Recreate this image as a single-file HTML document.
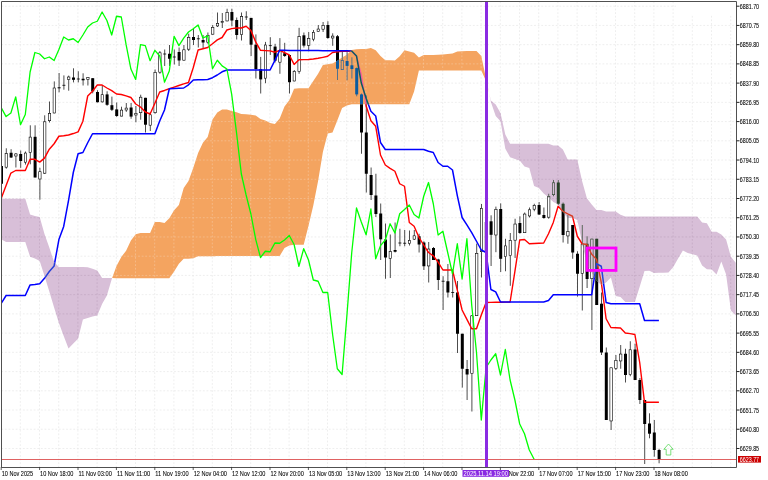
<!DOCTYPE html><html><head><meta charset="utf-8"><style>html,body{margin:0;padding:0;background:#fff;overflow:hidden}svg{display:block}text{font-family:"Liberation Sans",sans-serif}.tx{opacity:0.999;will-change:transform}</style></head><body>
<svg width="768" height="480" viewBox="0 0 768 480">
<rect x="0" y="0" width="768" height="480" fill="#fff"/>
<defs><clipPath id="cp"><rect x="2" y="2" width="734" height="465"/></clipPath></defs>
<g clip-path="url(#cp)">
<rect x="0" y="0" width="768" height="480" fill="#fff"/>
<rect x="0" y="0" width="768" height="480" fill="#fff"/><path d="M20.30 2V467 M39.50 2V467 M58.70 2V467 M77.90 2V467 M97.10 2V467 M116.30 2V467 M135.50 2V467 M154.70 2V467 M173.90 2V467 M193.10 2V467 M212.30 2V467 M231.50 2V467 M250.70 2V467 M269.90 2V467 M289.10 2V467 M308.30 2V467 M327.50 2V467 M346.70 2V467 M365.90 2V467 M385.10 2V467 M404.30 2V467 M423.50 2V467 M442.70 2V467 M461.90 2V467 M481.10 2V467 M500.30 2V467 M519.50 2V467 M538.70 2V467 M557.90 2V467 M577.10 2V467 M596.30 2V467 M615.50 2V467 M634.70 2V467 M653.90 2V467 M673.10 2V467 M692.30 2V467 M711.50 2V467 M730.70 2V467" stroke="#e2e2e2" stroke-width="0.6" stroke-dasharray="1.8 1.8" stroke-dashoffset="0.6" fill="none"/><path d="M2 6.20H736 M2 25.43H736 M2 44.66H736 M2 63.89H736 M2 83.12H736 M2 102.35H736 M2 121.58H736 M2 140.81H736 M2 160.04H736 M2 179.27H736 M2 198.50H736 M2 217.73H736 M2 236.96H736 M2 256.19H736 M2 275.42H736 M2 294.65H736 M2 313.88H736 M2 333.11H736 M2 352.34H736 M2 371.57H736 M2 390.80H736 M2 410.03H736 M2 429.26H736 M2 448.49H736" stroke="#e2e2e2" stroke-width="0.6" stroke-dasharray="1.8 1.8" stroke-dashoffset="0.7" fill="none"/><rect x="676.2" y="2" width="60" height="12.6" fill="#fff"/><line x1="1.50" y1="162" x2="1.50" y2="186" stroke="#000" stroke-width="0.7"/><rect x="0.00" y="166" width="3.0" height="17.75" fill="#000"/><line x1="6.30" y1="148.3" x2="6.30" y2="168.7" stroke="#000" stroke-width="0.7"/><rect x="5.10" y="153.60" width="2.40" height="13.60" fill="#fff" stroke="#000" stroke-width="0.6"/><line x1="11.10" y1="149.2" x2="11.10" y2="158" stroke="#000" stroke-width="0.7"/><rect x="9.60" y="152.75" width="3.0" height="4.75" fill="#000"/><line x1="15.90" y1="153" x2="15.90" y2="167.5" stroke="#000" stroke-width="0.7"/><rect x="14.70" y="153.90" width="2.40" height="2.10" fill="#fff" stroke="#000" stroke-width="0.6"/><line x1="20.70" y1="150.5" x2="20.70" y2="167.8" stroke="#000" stroke-width="0.7"/><rect x="19.20" y="154" width="3.0" height="7.00" fill="#000"/><line x1="25.50" y1="151.5" x2="25.50" y2="164.6" stroke="#000" stroke-width="0.7"/><rect x="24.30" y="153.05" width="2.40" height="9.15" fill="#fff" stroke="#000" stroke-width="0.6"/><line x1="30.30" y1="125.3" x2="30.30" y2="164.3" stroke="#000" stroke-width="0.7"/><rect x="29.10" y="137.10" width="2.40" height="15.35" fill="#fff" stroke="#000" stroke-width="0.6"/><line x1="35.10" y1="125.3" x2="35.10" y2="177.5" stroke="#000" stroke-width="0.7"/><rect x="33.60" y="136.8" width="3.0" height="40.70" fill="#000"/><line x1="39.90" y1="167.8" x2="39.90" y2="199.7" stroke="#000" stroke-width="0.7"/><rect x="38.70" y="171.70" width="2.40" height="7.30" fill="#fff" stroke="#000" stroke-width="0.6"/><line x1="44.70" y1="115.3" x2="44.70" y2="174" stroke="#000" stroke-width="0.7"/><rect x="43.50" y="121.80" width="2.40" height="51.40" fill="#fff" stroke="#000" stroke-width="0.6"/><line x1="49.50" y1="101.5" x2="49.50" y2="122.5" stroke="#000" stroke-width="0.7"/><rect x="48.30" y="113.30" width="2.40" height="7.40" fill="#fff" stroke="#000" stroke-width="0.6"/><line x1="54.30" y1="81.4" x2="54.30" y2="113.3" stroke="#000" stroke-width="0.7"/><rect x="53.10" y="88.00" width="2.40" height="25.00" fill="#fff" stroke="#000" stroke-width="0.6"/><line x1="59.10" y1="73" x2="59.10" y2="92.3" stroke="#000" stroke-width="0.7"/><rect x="57.60" y="87.3" width="3.0" height="1.00" fill="#000"/><line x1="63.90" y1="75.4" x2="63.90" y2="89.7" stroke="#000" stroke-width="0.7"/><line x1="62.40" y1="85.3" x2="65.40" y2="85.3" stroke="#000" stroke-width="0.8"/><line x1="68.70" y1="75.6" x2="68.70" y2="90.7" stroke="#000" stroke-width="0.7"/><rect x="67.50" y="77.00" width="2.40" height="2.50" fill="#fff" stroke="#000" stroke-width="0.6"/><line x1="73.50" y1="68.3" x2="73.50" y2="82.4" stroke="#000" stroke-width="0.7"/><rect x="72.00" y="77.5" width="3.0" height="2.30" fill="#000"/><line x1="78.30" y1="71.25" x2="78.30" y2="82.4" stroke="#000" stroke-width="0.7"/><line x1="76.80" y1="79" x2="79.80" y2="79" stroke="#000" stroke-width="0.8"/><line x1="83.10" y1="73.3" x2="83.10" y2="85.5" stroke="#000" stroke-width="0.7"/><rect x="81.60" y="78.75" width="3.0" height="1.55" fill="#000"/><line x1="87.90" y1="77.2" x2="87.90" y2="85.5" stroke="#000" stroke-width="0.7"/><rect x="86.70" y="77.50" width="2.40" height="2.00" fill="#fff" stroke="#000" stroke-width="0.6"/><line x1="92.70" y1="78" x2="92.70" y2="93.3" stroke="#000" stroke-width="0.7"/><rect x="91.20" y="78.2" width="3.0" height="13.05" fill="#000"/><line x1="97.50" y1="90.2" x2="97.50" y2="102.5" stroke="#000" stroke-width="0.7"/><rect x="96.00" y="92" width="3.0" height="10.20" fill="#000"/><line x1="102.30" y1="85" x2="102.30" y2="102.5" stroke="#000" stroke-width="0.7"/><rect x="101.10" y="94.70" width="2.40" height="7.20" fill="#fff" stroke="#000" stroke-width="0.6"/><line x1="107.10" y1="91.25" x2="107.10" y2="105.8" stroke="#000" stroke-width="0.7"/><rect x="105.60" y="94.4" width="3.0" height="10.40" fill="#000"/><line x1="111.90" y1="96.6" x2="111.90" y2="111" stroke="#000" stroke-width="0.7"/><rect x="110.40" y="105.2" width="3.0" height="4.60" fill="#000"/><line x1="116.70" y1="102.5" x2="116.70" y2="116.9" stroke="#000" stroke-width="0.7"/><rect x="115.20" y="109.4" width="3.0" height="6.60" fill="#000"/><line x1="121.50" y1="106.7" x2="121.50" y2="116.4" stroke="#000" stroke-width="0.7"/><rect x="120.30" y="110.10" width="2.40" height="6.00" fill="#fff" stroke="#000" stroke-width="0.6"/><line x1="126.30" y1="103" x2="126.30" y2="111.9" stroke="#000" stroke-width="0.7"/><rect x="125.10" y="108.10" width="2.40" height="1.90" fill="#fff" stroke="#000" stroke-width="0.6"/><line x1="131.10" y1="103" x2="131.10" y2="118.75" stroke="#000" stroke-width="0.7"/><rect x="129.60" y="107.5" width="3.0" height="9.10" fill="#000"/><line x1="135.90" y1="106" x2="135.90" y2="122.3" stroke="#000" stroke-width="0.7"/><rect x="134.70" y="113.30" width="2.40" height="1.70" fill="#fff" stroke="#000" stroke-width="0.6"/><line x1="140.70" y1="94.7" x2="140.70" y2="119.7" stroke="#000" stroke-width="0.7"/><rect x="139.50" y="97.20" width="2.40" height="15.50" fill="#fff" stroke="#000" stroke-width="0.6"/><line x1="145.50" y1="97.8" x2="145.50" y2="132.5" stroke="#000" stroke-width="0.7"/><rect x="144.00" y="97.8" width="3.0" height="26.90" fill="#000"/><line x1="150.30" y1="112" x2="150.30" y2="131" stroke="#000" stroke-width="0.7"/><rect x="149.10" y="114.80" width="2.40" height="10.40" fill="#fff" stroke="#000" stroke-width="0.6"/><line x1="155.10" y1="69.5" x2="155.10" y2="113.75" stroke="#000" stroke-width="0.7"/><rect x="153.90" y="72.30" width="2.40" height="40.40" fill="#fff" stroke="#000" stroke-width="0.6"/><line x1="159.90" y1="51" x2="159.90" y2="73.75" stroke="#000" stroke-width="0.7"/><rect x="158.70" y="52.80" width="2.40" height="19.40" fill="#fff" stroke="#000" stroke-width="0.6"/><line x1="164.70" y1="49.5" x2="164.70" y2="66" stroke="#000" stroke-width="0.7"/><line x1="163.20" y1="54" x2="166.20" y2="54" stroke="#000" stroke-width="0.8"/><line x1="169.50" y1="45" x2="169.50" y2="66" stroke="#000" stroke-width="0.7"/><rect x="168.00" y="53.75" width="3.0" height="5.00" fill="#000"/><line x1="174.30" y1="49.5" x2="174.30" y2="64.5" stroke="#000" stroke-width="0.7"/><line x1="172.80" y1="57" x2="175.80" y2="57" stroke="#000" stroke-width="0.8"/><line x1="179.10" y1="47.5" x2="179.10" y2="66" stroke="#000" stroke-width="0.7"/><rect x="177.60" y="52" width="3.0" height="8.50" fill="#000"/><line x1="183.90" y1="45" x2="183.90" y2="60.5" stroke="#000" stroke-width="0.7"/><rect x="182.70" y="49.80" width="2.40" height="10.40" fill="#fff" stroke="#000" stroke-width="0.6"/><line x1="188.70" y1="33.75" x2="188.70" y2="51" stroke="#000" stroke-width="0.7"/><rect x="187.50" y="37.30" width="2.40" height="11.90" fill="#fff" stroke="#000" stroke-width="0.6"/><line x1="193.50" y1="28.75" x2="193.50" y2="45" stroke="#000" stroke-width="0.7"/><rect x="192.00" y="37" width="3.0" height="3.00" fill="#000"/><line x1="198.30" y1="35" x2="198.30" y2="47.5" stroke="#000" stroke-width="0.7"/><line x1="196.80" y1="38.75" x2="199.80" y2="38.75" stroke="#000" stroke-width="0.8"/><line x1="203.10" y1="35" x2="203.10" y2="48" stroke="#000" stroke-width="0.7"/><rect x="201.60" y="40" width="3.0" height="2.50" fill="#000"/><line x1="207.90" y1="32.5" x2="207.90" y2="43.75" stroke="#000" stroke-width="0.7"/><rect x="206.70" y="35.30" width="2.40" height="6.90" fill="#fff" stroke="#000" stroke-width="0.6"/><line x1="212.70" y1="25" x2="212.70" y2="34.5" stroke="#000" stroke-width="0.7"/><rect x="211.50" y="27.30" width="2.40" height="6.90" fill="#fff" stroke="#000" stroke-width="0.6"/><line x1="217.50" y1="12.5" x2="217.50" y2="27" stroke="#000" stroke-width="0.7"/><rect x="216.30" y="23.30" width="2.40" height="2.65" fill="#fff" stroke="#000" stroke-width="0.6"/><line x1="222.30" y1="13" x2="222.30" y2="28" stroke="#000" stroke-width="0.7"/><rect x="221.10" y="21.55" width="2.40" height="1.15" fill="#fff" stroke="#000" stroke-width="0.6"/><line x1="227.10" y1="8.75" x2="227.10" y2="21.25" stroke="#000" stroke-width="0.7"/><rect x="225.90" y="12.30" width="2.40" height="8.65" fill="#fff" stroke="#000" stroke-width="0.6"/><line x1="231.90" y1="8.75" x2="231.90" y2="26.25" stroke="#000" stroke-width="0.7"/><rect x="230.40" y="12" width="3.0" height="8.50" fill="#000"/><line x1="236.70" y1="17.5" x2="236.70" y2="39.5" stroke="#000" stroke-width="0.7"/><rect x="235.20" y="20" width="3.0" height="15.00" fill="#000"/><line x1="241.50" y1="12.5" x2="241.50" y2="40.5" stroke="#000" stroke-width="0.7"/><rect x="240.30" y="16.55" width="2.40" height="18.15" fill="#fff" stroke="#000" stroke-width="0.6"/><line x1="246.30" y1="11.25" x2="246.30" y2="20" stroke="#000" stroke-width="0.7"/><line x1="244.80" y1="17" x2="247.80" y2="17" stroke="#000" stroke-width="0.8"/><line x1="251.10" y1="17.9" x2="251.10" y2="56" stroke="#000" stroke-width="0.7"/><rect x="249.60" y="17.9" width="3.0" height="26.80" fill="#000"/><line x1="255.90" y1="34.4" x2="255.90" y2="78.5" stroke="#000" stroke-width="0.7"/><rect x="254.40" y="44.7" width="3.0" height="24.40" fill="#000"/><line x1="260.70" y1="56.9" x2="260.70" y2="93.5" stroke="#000" stroke-width="0.7"/><rect x="259.20" y="69.1" width="3.0" height="10.30" fill="#000"/><line x1="265.50" y1="41.9" x2="265.50" y2="83.2" stroke="#000" stroke-width="0.7"/><rect x="264.30" y="45.00" width="2.40" height="33.20" fill="#fff" stroke="#000" stroke-width="0.6"/><line x1="270.30" y1="37.2" x2="270.30" y2="55" stroke="#000" stroke-width="0.7"/><line x1="268.80" y1="45.6" x2="271.80" y2="45.6" stroke="#000" stroke-width="0.8"/><line x1="275.10" y1="43.8" x2="275.10" y2="62.5" stroke="#000" stroke-width="0.7"/><rect x="273.60" y="46.6" width="3.0" height="14.10" fill="#000"/><line x1="279.90" y1="38.1" x2="279.90" y2="73.8" stroke="#000" stroke-width="0.7"/><rect x="278.70" y="50.60" width="2.40" height="11.60" fill="#fff" stroke="#000" stroke-width="0.6"/><line x1="284.70" y1="42.8" x2="284.70" y2="56.9" stroke="#000" stroke-width="0.7"/><rect x="283.20" y="53.2" width="3.0" height="2.80" fill="#000"/><line x1="289.50" y1="55" x2="289.50" y2="93.5" stroke="#000" stroke-width="0.7"/><rect x="288.00" y="55" width="3.0" height="27.20" fill="#000"/><line x1="294.30" y1="70" x2="294.30" y2="81.3" stroke="#000" stroke-width="0.7"/><rect x="293.10" y="71.30" width="2.40" height="9.70" fill="#fff" stroke="#000" stroke-width="0.6"/><line x1="299.10" y1="27.8" x2="299.10" y2="73.8" stroke="#000" stroke-width="0.7"/><rect x="297.90" y="36.60" width="2.40" height="35.00" fill="#fff" stroke="#000" stroke-width="0.6"/><line x1="303.90" y1="32.5" x2="303.90" y2="47.5" stroke="#000" stroke-width="0.7"/><rect x="302.40" y="35.3" width="3.0" height="10.30" fill="#000"/><line x1="308.70" y1="32" x2="308.70" y2="51.3" stroke="#000" stroke-width="0.7"/><rect x="307.50" y="38.40" width="2.40" height="6.90" fill="#fff" stroke="#000" stroke-width="0.6"/><line x1="313.50" y1="30" x2="313.50" y2="41.25" stroke="#000" stroke-width="0.7"/><rect x="312.30" y="32.30" width="2.40" height="6.90" fill="#fff" stroke="#000" stroke-width="0.6"/><line x1="318.30" y1="25" x2="318.30" y2="32" stroke="#000" stroke-width="0.7"/><rect x="317.10" y="29.05" width="2.40" height="2.65" fill="#fff" stroke="#000" stroke-width="0.6"/><line x1="323.10" y1="22" x2="323.10" y2="32" stroke="#000" stroke-width="0.7"/><rect x="321.90" y="25.30" width="2.40" height="3.90" fill="#fff" stroke="#000" stroke-width="0.6"/><line x1="327.90" y1="21.25" x2="327.90" y2="38.75" stroke="#000" stroke-width="0.7"/><rect x="326.40" y="25" width="3.0" height="13.00" fill="#000"/><line x1="332.70" y1="33.3" x2="332.70" y2="45.8" stroke="#000" stroke-width="0.7"/><rect x="331.50" y="36.10" width="2.40" height="1.90" fill="#fff" stroke="#000" stroke-width="0.6"/><line x1="337.50" y1="35" x2="337.50" y2="80" stroke="#000" stroke-width="0.7"/><rect x="336.00" y="36.25" width="3.0" height="32.50" fill="#000"/><line x1="342.30" y1="52" x2="342.30" y2="70" stroke="#000" stroke-width="0.7"/><rect x="341.10" y="60.55" width="2.40" height="9.15" fill="#fff" stroke="#000" stroke-width="0.6"/><line x1="347.10" y1="52.2" x2="347.10" y2="80.3" stroke="#000" stroke-width="0.7"/><rect x="345.60" y="61" width="3.0" height="4.90" fill="#000"/><line x1="351.90" y1="57.3" x2="351.90" y2="78.5" stroke="#000" stroke-width="0.7"/><rect x="350.40" y="65.3" width="3.0" height="3.70" fill="#000"/><line x1="356.70" y1="67.5" x2="356.70" y2="96.3" stroke="#000" stroke-width="0.7"/><rect x="355.20" y="68.1" width="3.0" height="26.30" fill="#000"/><line x1="361.50" y1="93.5" x2="361.50" y2="153.75" stroke="#000" stroke-width="0.7"/><rect x="360.00" y="94.4" width="3.0" height="38.10" fill="#000"/><line x1="366.30" y1="95.3" x2="366.30" y2="192.5" stroke="#000" stroke-width="0.7"/><rect x="364.80" y="132.5" width="3.0" height="41.25" fill="#000"/><line x1="371.10" y1="167.5" x2="371.10" y2="200" stroke="#000" stroke-width="0.7"/><rect x="369.60" y="175" width="3.0" height="20.00" fill="#000"/><line x1="375.90" y1="173.75" x2="375.90" y2="217" stroke="#000" stroke-width="0.7"/><rect x="374.40" y="195.5" width="3.0" height="18.50" fill="#000"/><line x1="380.70" y1="203.5" x2="380.70" y2="260" stroke="#000" stroke-width="0.7"/><rect x="379.20" y="213.5" width="3.0" height="25.80" fill="#000"/><line x1="385.50" y1="223.5" x2="385.50" y2="278.75" stroke="#000" stroke-width="0.7"/><rect x="384.00" y="239.5" width="3.0" height="18.00" fill="#000"/><line x1="390.30" y1="234.5" x2="390.30" y2="278" stroke="#000" stroke-width="0.7"/><rect x="389.10" y="251.55" width="2.40" height="6.90" fill="#fff" stroke="#000" stroke-width="0.6"/><line x1="395.10" y1="222.5" x2="395.10" y2="252.5" stroke="#000" stroke-width="0.7"/><rect x="393.60" y="250" width="3.0" height="1.75" fill="#000"/><line x1="399.90" y1="228.75" x2="399.90" y2="246.25" stroke="#000" stroke-width="0.7"/><line x1="398.40" y1="243" x2="401.40" y2="243" stroke="#000" stroke-width="0.8"/><line x1="404.70" y1="230" x2="404.70" y2="246.25" stroke="#000" stroke-width="0.7"/><line x1="403.20" y1="243.25" x2="406.20" y2="243.25" stroke="#000" stroke-width="0.8"/><line x1="409.50" y1="230.5" x2="409.50" y2="245.5" stroke="#000" stroke-width="0.7"/><rect x="408.30" y="240.30" width="2.40" height="3.15" fill="#fff" stroke="#000" stroke-width="0.6"/><line x1="414.30" y1="230" x2="414.30" y2="240" stroke="#000" stroke-width="0.7"/><rect x="413.10" y="235.80" width="2.40" height="3.40" fill="#fff" stroke="#000" stroke-width="0.6"/><line x1="419.10" y1="233.75" x2="419.10" y2="252.5" stroke="#000" stroke-width="0.7"/><rect x="417.60" y="236.25" width="3.0" height="8.25" fill="#000"/><line x1="423.90" y1="241.25" x2="423.90" y2="270" stroke="#000" stroke-width="0.7"/><rect x="422.40" y="242.5" width="3.0" height="23.75" fill="#000"/><line x1="428.70" y1="242" x2="428.70" y2="282.5" stroke="#000" stroke-width="0.7"/><rect x="427.50" y="249.05" width="2.40" height="16.90" fill="#fff" stroke="#000" stroke-width="0.6"/><line x1="433.50" y1="247" x2="433.50" y2="260" stroke="#000" stroke-width="0.7"/><rect x="432.00" y="248" width="3.0" height="12.00" fill="#000"/><line x1="438.30" y1="258.75" x2="438.30" y2="290" stroke="#000" stroke-width="0.7"/><rect x="436.80" y="259.5" width="3.0" height="20.50" fill="#000"/><line x1="443.10" y1="276.25" x2="443.10" y2="310" stroke="#000" stroke-width="0.7"/><line x1="441.60" y1="281.25" x2="444.60" y2="281.25" stroke="#000" stroke-width="0.8"/><line x1="447.90" y1="264" x2="447.90" y2="297.5" stroke="#000" stroke-width="0.7"/><rect x="446.40" y="281.25" width="3.0" height="11.25" fill="#000"/><line x1="452.70" y1="271.7" x2="452.70" y2="297.5" stroke="#000" stroke-width="0.7"/><line x1="451.20" y1="292.5" x2="454.20" y2="292.5" stroke="#000" stroke-width="0.8"/><line x1="457.50" y1="281" x2="457.50" y2="353" stroke="#000" stroke-width="0.7"/><rect x="456.00" y="292.5" width="3.0" height="41.25" fill="#000"/><line x1="462.30" y1="333.75" x2="462.30" y2="387.6" stroke="#000" stroke-width="0.7"/><rect x="460.80" y="333.75" width="3.0" height="35.00" fill="#000"/><line x1="467.10" y1="360" x2="467.10" y2="400" stroke="#000" stroke-width="0.7"/><rect x="465.60" y="369" width="3.0" height="5.50" fill="#000"/><line x1="471.90" y1="315" x2="471.90" y2="411.5" stroke="#000" stroke-width="0.7"/><rect x="470.70" y="315.80" width="2.40" height="57.90" fill="#fff" stroke="#000" stroke-width="0.6"/><line x1="476.70" y1="243.6" x2="476.70" y2="316" stroke="#000" stroke-width="0.7"/><rect x="475.50" y="253.30" width="2.40" height="62.40" fill="#fff" stroke="#000" stroke-width="0.6"/><line x1="481.50" y1="204" x2="481.50" y2="277.5" stroke="#000" stroke-width="0.7"/><rect x="480.30" y="208.30" width="2.40" height="43.40" fill="#fff" stroke="#000" stroke-width="0.6"/><line x1="486.30" y1="215" x2="486.30" y2="260" stroke="#000" stroke-width="0.7"/><rect x="485.10" y="222.30" width="2.40" height="29.40" fill="#fff" stroke="#000" stroke-width="0.6"/><line x1="491.10" y1="215.3" x2="491.10" y2="266" stroke="#000" stroke-width="0.7"/><rect x="489.60" y="221.3" width="3.0" height="13.50" fill="#000"/><line x1="495.90" y1="206.6" x2="495.90" y2="252.2" stroke="#000" stroke-width="0.7"/><rect x="494.70" y="209.30" width="2.40" height="25.70" fill="#fff" stroke="#000" stroke-width="0.6"/><line x1="500.70" y1="203.4" x2="500.70" y2="272" stroke="#000" stroke-width="0.7"/><rect x="499.20" y="209" width="3.0" height="49.80" fill="#000"/><line x1="505.50" y1="238.75" x2="505.50" y2="271.25" stroke="#000" stroke-width="0.7"/><rect x="504.30" y="245.90" width="2.40" height="10.80" fill="#fff" stroke="#000" stroke-width="0.6"/><line x1="510.30" y1="233" x2="510.30" y2="285.8" stroke="#000" stroke-width="0.7"/><rect x="509.10" y="240.30" width="2.40" height="15.40" fill="#fff" stroke="#000" stroke-width="0.6"/><line x1="515.10" y1="218.75" x2="515.10" y2="258" stroke="#000" stroke-width="0.7"/><rect x="513.90" y="224.05" width="2.40" height="16.15" fill="#fff" stroke="#000" stroke-width="0.6"/><line x1="519.90" y1="216.25" x2="519.90" y2="233.75" stroke="#000" stroke-width="0.7"/><rect x="518.40" y="223" width="3.0" height="10.00" fill="#000"/><line x1="524.70" y1="212.5" x2="524.70" y2="233" stroke="#000" stroke-width="0.7"/><rect x="523.50" y="214.05" width="2.40" height="18.65" fill="#fff" stroke="#000" stroke-width="0.6"/><line x1="529.50" y1="207.5" x2="529.50" y2="217.5" stroke="#000" stroke-width="0.7"/><rect x="528.30" y="209.80" width="2.40" height="6.15" fill="#fff" stroke="#000" stroke-width="0.6"/><line x1="534.30" y1="203.75" x2="534.30" y2="211.25" stroke="#000" stroke-width="0.7"/><rect x="533.10" y="205.30" width="2.40" height="3.90" fill="#fff" stroke="#000" stroke-width="0.6"/><line x1="539.10" y1="202" x2="539.10" y2="215" stroke="#000" stroke-width="0.7"/><rect x="537.60" y="205" width="3.0" height="9.50" fill="#000"/><line x1="543.90" y1="207.5" x2="543.90" y2="218.75" stroke="#000" stroke-width="0.7"/><rect x="542.40" y="215" width="3.0" height="3.00" fill="#000"/><line x1="548.70" y1="193.75" x2="548.70" y2="218.75" stroke="#000" stroke-width="0.7"/><rect x="547.50" y="196.55" width="2.40" height="20.65" fill="#fff" stroke="#000" stroke-width="0.6"/><line x1="553.50" y1="180" x2="553.50" y2="196.25" stroke="#000" stroke-width="0.7"/><rect x="552.30" y="182.80" width="2.40" height="11.90" fill="#fff" stroke="#000" stroke-width="0.6"/><line x1="558.30" y1="180" x2="558.30" y2="205" stroke="#000" stroke-width="0.7"/><rect x="556.80" y="182.5" width="3.0" height="21.25" fill="#000"/><line x1="563.10" y1="202.5" x2="563.10" y2="242.5" stroke="#000" stroke-width="0.7"/><rect x="561.60" y="203.75" width="3.0" height="31.25" fill="#000"/><line x1="567.90" y1="215" x2="567.90" y2="243.75" stroke="#000" stroke-width="0.7"/><rect x="566.70" y="231.55" width="2.40" height="4.40" fill="#fff" stroke="#000" stroke-width="0.6"/><line x1="572.70" y1="225" x2="572.70" y2="258.75" stroke="#000" stroke-width="0.7"/><rect x="571.20" y="225" width="3.0" height="27.50" fill="#000"/><line x1="577.50" y1="251.25" x2="577.50" y2="296.6" stroke="#000" stroke-width="0.7"/><rect x="576.00" y="253.75" width="3.0" height="20.00" fill="#000"/><line x1="582.30" y1="225" x2="582.30" y2="310.5" stroke="#000" stroke-width="0.7"/><rect x="581.10" y="244.05" width="2.40" height="29.40" fill="#fff" stroke="#000" stroke-width="0.6"/><line x1="587.10" y1="236.25" x2="587.10" y2="288" stroke="#000" stroke-width="0.7"/><rect x="585.60" y="243.75" width="3.0" height="35.25" fill="#000"/><line x1="591.90" y1="238.75" x2="591.90" y2="330" stroke="#000" stroke-width="0.7"/><rect x="590.70" y="239.05" width="2.40" height="39.65" fill="#fff" stroke="#000" stroke-width="0.6"/><line x1="596.70" y1="238.75" x2="596.70" y2="305" stroke="#000" stroke-width="0.7"/><rect x="595.20" y="238.75" width="3.0" height="66.25" fill="#000"/><line x1="601.50" y1="292.5" x2="601.50" y2="355" stroke="#000" stroke-width="0.7"/><rect x="600.00" y="303.7" width="3.0" height="48.80" fill="#000"/><line x1="606.30" y1="347.5" x2="606.30" y2="420" stroke="#000" stroke-width="0.7"/><rect x="604.80" y="352.5" width="3.0" height="67.50" fill="#000"/><line x1="611.10" y1="367.5" x2="611.10" y2="430" stroke="#000" stroke-width="0.7"/><rect x="609.90" y="367.80" width="2.40" height="53.15" fill="#fff" stroke="#000" stroke-width="0.6"/><line x1="615.90" y1="355" x2="615.90" y2="370" stroke="#000" stroke-width="0.7"/><rect x="614.70" y="360.30" width="2.40" height="8.15" fill="#fff" stroke="#000" stroke-width="0.6"/><line x1="620.70" y1="345" x2="620.70" y2="368.75" stroke="#000" stroke-width="0.7"/><rect x="619.50" y="354.05" width="2.40" height="6.90" fill="#fff" stroke="#000" stroke-width="0.6"/><line x1="625.50" y1="348.75" x2="625.50" y2="382.5" stroke="#000" stroke-width="0.7"/><rect x="624.00" y="353.75" width="3.0" height="21.25" fill="#000"/><line x1="630.30" y1="341.25" x2="630.30" y2="376.25" stroke="#000" stroke-width="0.7"/><rect x="629.10" y="349.80" width="2.40" height="24.90" fill="#fff" stroke="#000" stroke-width="0.6"/><line x1="635.10" y1="343.75" x2="635.10" y2="380" stroke="#000" stroke-width="0.7"/><rect x="633.60" y="349.5" width="3.0" height="30.50" fill="#000"/><line x1="639.90" y1="378" x2="639.90" y2="404" stroke="#000" stroke-width="0.7"/><rect x="638.40" y="380" width="3.0" height="20.00" fill="#000"/><line x1="644.70" y1="400" x2="644.70" y2="464" stroke="#000" stroke-width="0.7"/><rect x="643.20" y="400" width="3.0" height="24.00" fill="#000"/><line x1="649.50" y1="413.3" x2="649.50" y2="438.3" stroke="#000" stroke-width="0.7"/><rect x="648.00" y="423.5" width="3.0" height="10.20" fill="#000"/><line x1="654.30" y1="420" x2="654.30" y2="456.7" stroke="#000" stroke-width="0.7"/><rect x="652.80" y="432.5" width="3.0" height="17.50" fill="#000"/><line x1="659.10" y1="448.75" x2="659.10" y2="463.3" stroke="#000" stroke-width="0.7"/><rect x="657.60" y="450" width="3.0" height="9.20" fill="#000"/><polyline points="1.30,198.00 6.10,185.50 10.90,173.10 15.70,170.50 20.50,170.50 25.30,170.50 30.10,159.30 34.90,159.30 39.70,162.10 44.50,158.10 49.30,149.20 54.10,143.75 58.90,136.25 63.70,135.72 68.50,135.00 73.30,133.54 78.10,131.91 82.90,121.25 87.70,96.00 92.50,91.25 97.30,85.00 102.10,85.00 106.90,88.00 111.70,90.60 116.50,94.00 121.30,94.50 126.10,95.94 130.90,97.50 135.70,104.00 140.50,107.00 145.30,112.00 150.10,114.00 154.90,103.22 159.70,92.00 164.50,90.46 169.30,88.75 174.10,87.15 178.90,85.49 183.70,83.82 188.50,82.50 193.30,67.50 198.10,50.00 202.90,48.75 207.70,47.50 212.50,43.75 217.30,39.87 222.10,37.50 226.90,30.00 231.70,28.66 236.50,28.00 241.30,28.00 246.10,26.25 250.90,30.60 255.70,41.90 260.50,50.30 265.30,50.64 270.10,50.90 274.90,52.20 279.70,50.30 284.50,52.70 289.30,55.00 294.10,64.40 298.90,59.70 303.70,59.62 308.50,59.50 313.30,59.00 318.10,58.28 322.90,57.32 327.70,56.25 332.50,52.50 337.30,51.81 342.10,51.25 346.90,51.25 351.70,51.25 356.50,56.25 361.30,75.00 366.10,105.70 370.90,120.70 375.70,126.30 380.50,155.00 385.30,165.00 390.10,168.31 394.90,171.25 399.70,183.75 404.50,186.25 409.30,222.50 414.10,226.25 418.90,237.29 423.70,245.00 428.50,252.50 433.30,255.80 438.10,262.08 442.90,270.00 447.70,270.00 452.50,270.00 457.30,290.07 462.10,310.00 466.90,319.43 471.70,328.75 476.50,328.75 481.30,315.00 486.10,302.50 490.90,302.40 495.70,302.30 500.50,302.20 505.30,302.10 510.10,302.00 514.90,271.31 519.70,240.00 524.50,239.50 529.30,243.75 534.10,243.53 538.90,243.26 543.70,243.00 548.50,233.75 553.30,222.41 558.10,206.25 562.90,211.25 567.70,213.88 572.50,216.25 577.30,236.25 582.10,243.75 586.90,244.50 591.70,254.20 596.50,259.38 601.30,282.50 606.10,318.75 610.90,327.50 615.70,327.75 620.50,328.00 625.30,333.00 630.10,333.66 634.90,334.50 639.70,362.50 644.50,402.30 649.30,402.30 654.10,402.30 658.90,402.30" fill="none" stroke="#f00" stroke-width="1.4" stroke-linejoin="round"/><polyline points="1.30,303.30 6.10,295.50 10.90,295.50 15.70,295.50 20.50,295.50 25.30,295.50 30.10,284.90 34.90,284.50 39.70,283.80 44.50,278.35 49.30,271.45 54.10,266.00 58.90,239.60 63.70,226.39 68.50,200.73 73.30,172.50 78.10,153.75 82.90,152.50 87.70,142.75 92.50,133.75 97.30,133.75 102.10,133.75 106.90,133.75 111.70,133.75 116.50,133.75 121.30,133.75 126.10,133.75 130.90,133.75 135.70,133.75 140.50,133.75 145.30,133.75 150.10,133.75 154.90,133.75 159.70,120.99 164.50,110.00 169.30,88.75 174.10,88.55 178.90,88.31 183.70,88.00 188.50,84.80 193.30,80.00 198.10,79.87 202.90,79.72 207.70,79.57 212.50,77.70 217.30,75.00 222.10,71.80 226.90,70.00 231.70,70.00 236.50,70.00 241.30,70.00 246.10,70.00 250.90,70.00 255.70,70.00 260.50,70.00 265.30,70.00 270.10,70.00 274.90,60.36 279.70,50.30 284.50,50.34 289.30,50.38 294.10,50.42 298.90,50.46 303.70,50.50 308.50,50.54 313.30,50.58 318.10,50.62 322.90,50.66 327.70,50.70 332.50,50.74 337.30,50.78 342.10,50.82 346.90,50.86 351.70,50.90 356.50,55.92 361.30,83.10 366.10,98.20 370.90,111.30 375.70,116.00 380.50,142.50 385.30,149.50 390.10,149.50 394.90,149.50 399.70,149.50 404.50,149.50 409.30,149.50 414.10,149.50 418.90,149.50 423.70,149.50 428.50,151.30 433.30,152.50 438.10,162.50 442.90,166.25 447.70,166.25 452.50,170.00 457.30,195.54 462.10,217.50 466.90,224.83 471.70,232.55 476.50,241.25 481.30,250.00 486.10,252.50 490.90,289.50 495.70,291.90 500.50,302.00 505.30,302.00 510.10,302.00 514.90,302.00 519.70,302.00 524.50,302.00 529.30,302.00 534.10,302.00 538.90,302.00 543.70,302.00 548.50,300.50 553.30,294.70 558.10,294.70 562.90,294.70 567.70,294.70 572.50,294.70 577.30,294.70 582.10,294.70 586.90,294.70 591.70,294.70 596.50,263.75 601.30,266.25 606.10,302.50 610.90,303.75 615.70,303.75 620.50,303.75 625.30,303.75 630.10,303.75 634.90,303.75 639.70,303.75 644.50,320.50 649.30,320.50 654.10,320.50 658.90,320.50" fill="none" stroke="#00f" stroke-width="1.5" stroke-linejoin="round"/>
<clipPath id="oc"><path d="M112.13 278.02 L116.50 266.00 L116.50 278.20ZM116.50 266.00 L121.30 257.00 L121.30 278.20 L116.50 278.20ZM121.30 257.00 L126.10 250.65 L126.10 278.20 L121.30 278.20ZM126.10 250.65 L130.90 240.50 L130.90 278.20 L126.10 278.20ZM130.90 240.50 L135.70 234.30 L135.70 278.20 L130.90 278.20ZM135.70 234.30 L140.50 233.00 L140.50 278.20 L135.70 278.20ZM140.50 233.00 L145.30 233.00 L145.30 278.20 L140.50 278.20ZM145.30 233.00 L150.10 233.00 L150.10 278.20 L145.30 278.20ZM150.10 233.00 L154.90 222.10 L154.90 278.20 L150.10 278.20ZM154.90 222.10 L159.70 221.90 L159.70 278.20 L154.90 278.20ZM159.70 221.90 L164.50 222.95 L164.50 278.20 L159.70 278.20ZM164.50 222.95 L169.30 218.22 L169.30 278.20 L164.50 278.20ZM169.30 218.22 L174.10 210.33 L174.10 271.50 L169.30 278.20ZM174.10 210.33 L178.90 204.88 L178.90 263.70 L174.10 271.50ZM178.90 204.88 L183.70 187.93 L183.70 258.75 L178.90 263.70ZM183.70 187.93 L188.50 181.05 L188.50 258.75 L183.70 258.75ZM188.50 181.05 L193.30 167.86 L193.30 258.20 L188.50 258.75ZM193.30 167.86 L198.10 153.02 L198.10 256.25 L193.30 258.20ZM198.10 153.02 L202.90 142.83 L202.90 256.25 L198.10 256.25ZM202.90 142.83 L207.70 136.88 L207.70 256.25 L202.90 256.25ZM207.70 136.88 L212.50 119.38 L212.50 256.25 L207.70 256.25ZM212.50 119.38 L217.30 112.50 L217.30 256.00 L212.50 256.25ZM217.30 112.50 L222.10 109.38 L222.10 256.00 L217.30 256.00ZM222.10 109.38 L226.90 109.38 L226.90 256.00 L222.10 256.00ZM226.90 109.38 L231.70 110.88 L231.70 256.00 L226.90 256.00ZM231.70 110.88 L236.50 112.17 L236.50 256.00 L231.70 256.00ZM236.50 112.17 L241.30 113.88 L241.30 256.00 L236.50 256.00ZM241.30 113.88 L246.10 114.13 L246.10 256.00 L241.30 256.00ZM246.10 114.13 L250.90 114.84 L250.90 256.00 L246.10 256.00ZM250.90 114.84 L255.70 115.62 L255.70 256.00 L250.90 256.00ZM255.70 115.62 L260.50 118.88 L260.50 256.00 L255.70 256.00ZM260.50 118.88 L265.30 120.38 L265.30 256.00 L260.50 256.00ZM265.30 120.38 L270.10 122.88 L270.10 256.00 L265.30 256.00ZM270.10 122.88 L274.90 123.88 L274.90 256.00 L270.10 256.00ZM274.90 123.88 L279.70 118.48 L279.70 256.00 L274.90 256.00ZM279.70 118.48 L284.50 106.50 L284.50 248.00 L279.70 256.00ZM284.50 106.50 L289.30 100.23 L289.30 245.50 L284.50 248.00ZM289.30 100.23 L294.10 88.75 L294.10 244.70 L289.30 245.50ZM294.10 88.75 L298.90 88.30 L298.90 244.70 L294.10 244.70ZM298.90 88.30 L303.70 88.30 L303.70 244.70 L298.90 244.70ZM303.70 88.30 L308.50 88.30 L308.50 225.80 L303.70 244.70ZM308.50 88.30 L313.30 81.00 L313.30 205.50 L308.50 225.80ZM313.30 81.00 L318.10 73.75 L318.10 181.00 L313.30 205.50ZM318.10 73.75 L322.90 64.93 L322.90 152.00 L318.10 181.00ZM322.90 64.93 L327.70 64.23 L327.70 133.50 L322.90 152.00ZM327.70 64.23 L332.50 63.54 L332.50 132.40 L327.70 133.50ZM332.50 63.54 L337.30 60.73 L337.30 120.50 L332.50 132.40ZM337.30 60.73 L342.10 57.43 L342.10 108.00 L337.30 120.50ZM342.10 57.43 L346.90 54.65 L346.90 105.50 L342.10 108.00ZM346.90 54.65 L351.70 50.00 L351.70 104.20 L346.90 105.50ZM351.70 50.00 L356.50 49.33 L356.50 104.20 L351.70 104.20ZM356.50 49.33 L361.30 49.00 L361.30 104.20 L356.50 104.20ZM361.30 49.00 L366.10 49.00 L366.10 104.20 L361.30 104.20ZM366.10 49.00 L370.90 48.12 L370.90 104.22 L366.10 104.20ZM370.90 48.12 L375.70 50.30 L375.70 104.22 L370.90 104.22ZM375.70 50.30 L380.50 55.95 L380.50 104.22 L375.70 104.22ZM380.50 55.95 L385.30 60.15 L385.30 104.22 L380.50 104.22ZM385.30 60.15 L390.10 60.32 L390.10 104.22 L385.30 104.22ZM390.10 60.32 L394.90 60.45 L394.90 104.22 L390.10 104.22ZM394.90 60.45 L399.70 56.28 L399.70 104.22 L394.90 104.22ZM399.70 56.28 L404.50 50.30 L404.50 104.22 L399.70 104.22ZM404.50 50.30 L409.30 51.52 L409.30 104.22 L404.50 104.22ZM409.30 51.52 L414.10 52.69 L414.10 91.38 L409.30 104.22ZM414.10 52.69 L418.90 57.41 L418.90 70.62 L414.10 91.38ZM418.90 57.41 L423.70 55.08 L423.70 70.62 L418.90 70.62ZM423.70 55.08 L428.50 55.06 L428.50 70.62 L423.70 70.62ZM428.50 55.06 L433.30 55.02 L433.30 70.62 L428.50 70.62ZM433.30 55.02 L438.10 54.79 L438.10 70.62 L433.30 70.62ZM438.10 54.79 L442.90 54.45 L442.90 70.62 L438.10 70.62ZM442.90 54.45 L447.70 53.99 L447.70 70.62 L442.90 70.62ZM447.70 53.99 L452.50 53.48 L452.50 70.62 L447.70 70.62ZM452.50 53.48 L457.30 51.62 L457.30 70.62 L452.50 70.62ZM457.30 51.62 L462.10 51.30 L462.10 70.62 L457.30 70.62ZM462.10 51.30 L466.90 51.04 L466.90 70.62 L462.10 70.62ZM466.90 51.04 L471.70 51.06 L471.70 70.62 L466.90 70.62ZM471.70 51.06 L476.50 51.08 L476.50 70.62 L471.70 70.62ZM476.50 51.08 L481.30 56.09 L481.30 70.62 L476.50 70.62ZM481.30 56.09 L486.10 79.05 L486.10 81.25 L481.30 70.62ZM486.10 79.05 L489.10 93.34 L486.10 81.25Z"/></clipPath><clipPath id="pc"><path d="M1.30 239.50 L6.10 242.00 L6.10 198.75 L1.30 198.75ZM6.10 242.00 L10.90 242.00 L10.90 198.75 L6.10 198.75ZM10.90 242.00 L15.70 242.00 L15.70 198.75 L10.90 198.75ZM15.70 242.00 L20.50 242.00 L20.50 198.75 L15.70 198.75ZM20.50 242.00 L25.30 242.00 L25.30 198.75 L20.50 198.75ZM25.30 242.00 L30.10 256.70 L30.10 214.50 L25.30 198.75ZM30.10 256.70 L34.90 258.50 L34.90 216.00 L30.10 214.50ZM34.90 258.50 L39.70 261.00 L39.70 217.00 L34.90 216.00ZM39.70 261.00 L44.50 276.00 L44.50 234.00 L39.70 217.00ZM44.50 276.00 L49.30 291.50 L49.30 247.60 L44.50 234.00ZM49.30 291.50 L54.10 307.50 L54.10 262.00 L49.30 247.60ZM54.10 307.50 L58.90 323.00 L58.90 267.00 L54.10 262.00ZM58.90 323.00 L63.70 336.00 L63.70 267.00 L58.90 267.00ZM63.70 336.00 L68.50 348.50 L68.50 267.00 L63.70 267.00ZM68.50 348.50 L73.30 343.50 L73.30 267.00 L68.50 267.00ZM73.30 343.50 L78.10 338.70 L78.10 267.00 L73.30 267.00ZM78.10 338.70 L82.90 319.50 L82.90 267.00 L78.10 267.00ZM82.90 319.50 L87.70 318.00 L87.70 267.20 L82.90 267.00ZM87.70 318.00 L92.50 316.50 L92.50 268.75 L87.70 267.20ZM92.50 316.50 L97.30 315.40 L97.30 270.50 L92.50 268.75ZM97.30 315.40 L102.10 304.00 L102.10 278.00 L97.30 270.50ZM102.10 304.00 L106.90 295.50 L106.90 278.00 L102.10 278.00ZM106.90 295.50 L111.70 279.20 L111.70 278.00 L106.90 278.00ZM111.70 279.20 L112.13 278.02 L111.70 278.00ZM489.10 93.34 L490.90 101.95 L490.90 100.62ZM490.90 101.95 L495.70 116.00 L495.70 104.38 L490.90 100.62ZM495.70 116.00 L500.50 121.15 L500.50 112.88 L495.70 104.38ZM500.50 121.15 L505.30 148.75 L505.30 134.38 L500.50 112.88ZM505.30 148.75 L510.10 157.25 L510.10 143.75 L505.30 134.38ZM510.10 157.25 L514.90 158.90 L514.90 143.75 L510.10 143.75ZM514.90 158.90 L519.70 160.38 L519.70 143.75 L514.90 143.75ZM519.70 160.38 L524.50 166.62 L524.50 143.75 L519.70 143.75ZM524.50 166.62 L529.30 167.88 L529.30 143.75 L524.50 143.75ZM529.30 167.88 L534.10 186.00 L534.10 143.75 L529.30 143.75ZM534.10 186.00 L538.90 187.88 L538.90 143.75 L534.10 143.75ZM538.90 187.88 L543.70 193.39 L543.70 143.75 L538.90 143.75ZM543.70 193.39 L548.50 197.25 L548.50 143.75 L543.70 143.75ZM548.50 197.25 L553.30 201.90 L553.30 145.62 L548.50 143.75ZM553.30 201.90 L558.10 204.15 L558.10 145.62 L553.30 145.62ZM558.10 204.15 L562.90 212.29 L562.90 149.38 L558.10 145.62ZM562.90 212.29 L567.70 218.12 L567.70 159.38 L562.90 149.38ZM567.70 218.12 L572.50 218.12 L572.50 159.38 L567.70 159.38ZM572.50 218.12 L577.30 220.00 L577.30 159.38 L572.50 159.38ZM577.30 220.00 L582.10 242.81 L582.10 180.88 L577.30 159.38ZM582.10 242.81 L586.90 263.75 L586.90 198.18 L582.10 180.88ZM586.90 263.75 L591.70 272.13 L591.70 204.38 L586.90 198.18ZM591.70 272.13 L596.50 280.65 L596.50 210.12 L591.70 204.38ZM596.50 280.65 L601.30 285.00 L601.30 210.12 L596.50 210.12ZM601.30 285.00 L606.10 282.50 L606.10 211.38 L601.30 210.12ZM606.10 282.50 L610.90 277.50 L610.90 211.38 L606.10 211.38ZM610.90 277.50 L615.70 295.95 L615.70 211.38 L610.90 211.38ZM615.70 295.95 L620.50 297.10 L620.50 214.70 L615.70 211.38ZM620.50 297.10 L625.30 302.10 L625.30 216.38 L620.50 214.70ZM625.30 302.10 L630.10 302.05 L630.10 216.38 L625.30 216.38ZM630.10 302.05 L634.90 302.00 L634.90 216.38 L630.10 216.38ZM634.90 302.00 L639.70 286.65 L639.70 216.38 L634.90 216.38ZM639.70 286.65 L644.50 271.00 L644.50 216.38 L639.70 216.38ZM644.50 271.00 L649.30 270.75 L649.30 216.38 L644.50 216.38ZM649.30 270.75 L654.10 272.88 L654.10 216.38 L649.30 216.38ZM654.10 272.88 L658.90 272.76 L658.90 216.38 L654.10 216.38ZM658.90 272.76 L663.70 272.63 L663.70 216.38 L658.90 216.38ZM663.70 272.63 L668.50 272.50 L668.50 216.38 L663.70 216.38ZM668.50 272.50 L673.30 267.12 L673.30 216.38 L668.50 216.38ZM673.30 267.12 L678.10 258.55 L678.10 216.38 L673.30 216.38ZM678.10 258.55 L682.90 250.47 L682.90 216.38 L678.10 216.38ZM682.90 250.47 L687.70 252.97 L687.70 216.38 L682.90 216.38ZM687.70 252.97 L692.50 254.29 L692.50 216.38 L687.70 216.38ZM692.50 254.29 L697.30 255.47 L697.30 216.38 L692.50 216.38ZM697.30 255.47 L702.10 265.48 L702.10 222.40 L697.30 216.38ZM702.10 265.48 L706.90 269.23 L706.90 223.25 L702.10 222.40ZM706.90 269.23 L711.70 269.60 L711.70 231.75 L706.90 223.25ZM711.70 269.60 L716.50 274.45 L716.50 231.85 L711.70 231.75ZM716.50 274.45 L721.30 261.56 L721.30 234.40 L716.50 231.85ZM721.30 261.56 L726.10 274.38 L726.10 239.50 L721.30 234.40ZM726.10 274.38 L730.90 310.62 L730.90 256.75 L726.10 239.50ZM730.90 310.62 L735.70 315.62 L735.70 262.65 L730.90 256.75Z"/></clipPath>
<g clip-path="url(#oc)"><rect x="0" y="0" width="768" height="480" fill="rgb(244,164,96)"/><path d="M20.30 2V467 M39.50 2V467 M58.70 2V467 M77.90 2V467 M97.10 2V467 M116.30 2V467 M135.50 2V467 M154.70 2V467 M173.90 2V467 M193.10 2V467 M212.30 2V467 M231.50 2V467 M250.70 2V467 M269.90 2V467 M289.10 2V467 M308.30 2V467 M327.50 2V467 M346.70 2V467 M365.90 2V467 M385.10 2V467 M404.30 2V467 M423.50 2V467 M442.70 2V467 M461.90 2V467 M481.10 2V467 M500.30 2V467 M519.50 2V467 M538.70 2V467 M557.90 2V467 M577.10 2V467 M596.30 2V467 M615.50 2V467 M634.70 2V467 M653.90 2V467 M673.10 2V467 M692.30 2V467 M711.50 2V467 M730.70 2V467" stroke="#f7c8a0" stroke-width="0.6" stroke-dasharray="1.8 1.8" stroke-dashoffset="0.6" fill="none"/><path d="M2 6.20H736 M2 25.43H736 M2 44.66H736 M2 63.89H736 M2 83.12H736 M2 102.35H736 M2 121.58H736 M2 140.81H736 M2 160.04H736 M2 179.27H736 M2 198.50H736 M2 217.73H736 M2 236.96H736 M2 256.19H736 M2 275.42H736 M2 294.65H736 M2 313.88H736 M2 333.11H736 M2 352.34H736 M2 371.57H736 M2 390.80H736 M2 410.03H736 M2 429.26H736 M2 448.49H736" stroke="#f7c8a0" stroke-width="0.6" stroke-dasharray="1.8 1.8" stroke-dashoffset="0.7" fill="none"/><line x1="102.30" y1="85" x2="102.30" y2="102.5" stroke="rgb(11,91,159)" stroke-width="0.7"/><rect x="101.10" y="94.70" width="2.40" height="7.20" fill="rgb(244,164,96)" stroke="rgb(11,91,159)" stroke-width="0.6"/><line x1="107.10" y1="91.25" x2="107.10" y2="105.8" stroke="rgb(11,91,159)" stroke-width="0.7"/><rect x="105.60" y="94.4" width="3.0" height="10.40" fill="rgb(11,91,159)"/><line x1="111.90" y1="96.6" x2="111.90" y2="111" stroke="rgb(11,91,159)" stroke-width="0.7"/><rect x="110.40" y="105.2" width="3.0" height="4.60" fill="rgb(11,91,159)"/><line x1="116.70" y1="102.5" x2="116.70" y2="116.9" stroke="rgb(11,91,159)" stroke-width="0.7"/><rect x="115.20" y="109.4" width="3.0" height="6.60" fill="rgb(11,91,159)"/><line x1="121.50" y1="106.7" x2="121.50" y2="116.4" stroke="rgb(11,91,159)" stroke-width="0.7"/><rect x="120.30" y="110.10" width="2.40" height="6.00" fill="rgb(244,164,96)" stroke="rgb(11,91,159)" stroke-width="0.6"/><line x1="126.30" y1="103" x2="126.30" y2="111.9" stroke="rgb(11,91,159)" stroke-width="0.7"/><rect x="125.10" y="108.10" width="2.40" height="1.90" fill="rgb(244,164,96)" stroke="rgb(11,91,159)" stroke-width="0.6"/><line x1="131.10" y1="103" x2="131.10" y2="118.75" stroke="rgb(11,91,159)" stroke-width="0.7"/><rect x="129.60" y="107.5" width="3.0" height="9.10" fill="rgb(11,91,159)"/><line x1="135.90" y1="106" x2="135.90" y2="122.3" stroke="rgb(11,91,159)" stroke-width="0.7"/><rect x="134.70" y="113.30" width="2.40" height="1.70" fill="rgb(244,164,96)" stroke="rgb(11,91,159)" stroke-width="0.6"/><line x1="140.70" y1="94.7" x2="140.70" y2="119.7" stroke="rgb(11,91,159)" stroke-width="0.7"/><rect x="139.50" y="97.20" width="2.40" height="15.50" fill="rgb(244,164,96)" stroke="rgb(11,91,159)" stroke-width="0.6"/><line x1="145.50" y1="97.8" x2="145.50" y2="132.5" stroke="rgb(11,91,159)" stroke-width="0.7"/><rect x="144.00" y="97.8" width="3.0" height="26.90" fill="rgb(11,91,159)"/><line x1="150.30" y1="112" x2="150.30" y2="131" stroke="rgb(11,91,159)" stroke-width="0.7"/><rect x="149.10" y="114.80" width="2.40" height="10.40" fill="rgb(244,164,96)" stroke="rgb(11,91,159)" stroke-width="0.6"/><line x1="155.10" y1="69.5" x2="155.10" y2="113.75" stroke="rgb(11,91,159)" stroke-width="0.7"/><rect x="153.90" y="72.30" width="2.40" height="40.40" fill="rgb(244,164,96)" stroke="rgb(11,91,159)" stroke-width="0.6"/><line x1="159.90" y1="51" x2="159.90" y2="73.75" stroke="rgb(11,91,159)" stroke-width="0.7"/><rect x="158.70" y="52.80" width="2.40" height="19.40" fill="rgb(244,164,96)" stroke="rgb(11,91,159)" stroke-width="0.6"/><line x1="164.70" y1="49.5" x2="164.70" y2="66" stroke="rgb(11,91,159)" stroke-width="0.7"/><line x1="163.20" y1="54" x2="166.20" y2="54" stroke="rgb(11,91,159)" stroke-width="0.8"/><line x1="169.50" y1="45" x2="169.50" y2="66" stroke="rgb(11,91,159)" stroke-width="0.7"/><rect x="168.00" y="53.75" width="3.0" height="5.00" fill="rgb(11,91,159)"/><line x1="174.30" y1="49.5" x2="174.30" y2="64.5" stroke="rgb(11,91,159)" stroke-width="0.7"/><line x1="172.80" y1="57" x2="175.80" y2="57" stroke="rgb(11,91,159)" stroke-width="0.8"/><line x1="179.10" y1="47.5" x2="179.10" y2="66" stroke="rgb(11,91,159)" stroke-width="0.7"/><rect x="177.60" y="52" width="3.0" height="8.50" fill="rgb(11,91,159)"/><line x1="183.90" y1="45" x2="183.90" y2="60.5" stroke="rgb(11,91,159)" stroke-width="0.7"/><rect x="182.70" y="49.80" width="2.40" height="10.40" fill="rgb(244,164,96)" stroke="rgb(11,91,159)" stroke-width="0.6"/><line x1="188.70" y1="33.75" x2="188.70" y2="51" stroke="rgb(11,91,159)" stroke-width="0.7"/><rect x="187.50" y="37.30" width="2.40" height="11.90" fill="rgb(244,164,96)" stroke="rgb(11,91,159)" stroke-width="0.6"/><line x1="193.50" y1="28.75" x2="193.50" y2="45" stroke="rgb(11,91,159)" stroke-width="0.7"/><rect x="192.00" y="37" width="3.0" height="3.00" fill="rgb(11,91,159)"/><line x1="198.30" y1="35" x2="198.30" y2="47.5" stroke="rgb(11,91,159)" stroke-width="0.7"/><line x1="196.80" y1="38.75" x2="199.80" y2="38.75" stroke="rgb(11,91,159)" stroke-width="0.8"/><line x1="203.10" y1="35" x2="203.10" y2="48" stroke="rgb(11,91,159)" stroke-width="0.7"/><rect x="201.60" y="40" width="3.0" height="2.50" fill="rgb(11,91,159)"/><line x1="207.90" y1="32.5" x2="207.90" y2="43.75" stroke="rgb(11,91,159)" stroke-width="0.7"/><rect x="206.70" y="35.30" width="2.40" height="6.90" fill="rgb(244,164,96)" stroke="rgb(11,91,159)" stroke-width="0.6"/><line x1="212.70" y1="25" x2="212.70" y2="34.5" stroke="rgb(11,91,159)" stroke-width="0.7"/><rect x="211.50" y="27.30" width="2.40" height="6.90" fill="rgb(244,164,96)" stroke="rgb(11,91,159)" stroke-width="0.6"/><line x1="217.50" y1="12.5" x2="217.50" y2="27" stroke="rgb(11,91,159)" stroke-width="0.7"/><rect x="216.30" y="23.30" width="2.40" height="2.65" fill="rgb(244,164,96)" stroke="rgb(11,91,159)" stroke-width="0.6"/><line x1="222.30" y1="13" x2="222.30" y2="28" stroke="rgb(11,91,159)" stroke-width="0.7"/><rect x="221.10" y="21.55" width="2.40" height="1.15" fill="rgb(244,164,96)" stroke="rgb(11,91,159)" stroke-width="0.6"/><line x1="227.10" y1="8.75" x2="227.10" y2="21.25" stroke="rgb(11,91,159)" stroke-width="0.7"/><rect x="225.90" y="12.30" width="2.40" height="8.65" fill="rgb(244,164,96)" stroke="rgb(11,91,159)" stroke-width="0.6"/><line x1="231.90" y1="8.75" x2="231.90" y2="26.25" stroke="rgb(11,91,159)" stroke-width="0.7"/><rect x="230.40" y="12" width="3.0" height="8.50" fill="rgb(11,91,159)"/><line x1="236.70" y1="17.5" x2="236.70" y2="39.5" stroke="rgb(11,91,159)" stroke-width="0.7"/><rect x="235.20" y="20" width="3.0" height="15.00" fill="rgb(11,91,159)"/><line x1="241.50" y1="12.5" x2="241.50" y2="40.5" stroke="rgb(11,91,159)" stroke-width="0.7"/><rect x="240.30" y="16.55" width="2.40" height="18.15" fill="rgb(244,164,96)" stroke="rgb(11,91,159)" stroke-width="0.6"/><line x1="246.30" y1="11.25" x2="246.30" y2="20" stroke="rgb(11,91,159)" stroke-width="0.7"/><line x1="244.80" y1="17" x2="247.80" y2="17" stroke="rgb(11,91,159)" stroke-width="0.8"/><line x1="251.10" y1="17.9" x2="251.10" y2="56" stroke="rgb(11,91,159)" stroke-width="0.7"/><rect x="249.60" y="17.9" width="3.0" height="26.80" fill="rgb(11,91,159)"/><line x1="255.90" y1="34.4" x2="255.90" y2="78.5" stroke="rgb(11,91,159)" stroke-width="0.7"/><rect x="254.40" y="44.7" width="3.0" height="24.40" fill="rgb(11,91,159)"/><line x1="260.70" y1="56.9" x2="260.70" y2="93.5" stroke="rgb(11,91,159)" stroke-width="0.7"/><rect x="259.20" y="69.1" width="3.0" height="10.30" fill="rgb(11,91,159)"/><line x1="265.50" y1="41.9" x2="265.50" y2="83.2" stroke="rgb(11,91,159)" stroke-width="0.7"/><rect x="264.30" y="45.00" width="2.40" height="33.20" fill="rgb(244,164,96)" stroke="rgb(11,91,159)" stroke-width="0.6"/><line x1="270.30" y1="37.2" x2="270.30" y2="55" stroke="rgb(11,91,159)" stroke-width="0.7"/><line x1="268.80" y1="45.6" x2="271.80" y2="45.6" stroke="rgb(11,91,159)" stroke-width="0.8"/><line x1="275.10" y1="43.8" x2="275.10" y2="62.5" stroke="rgb(11,91,159)" stroke-width="0.7"/><rect x="273.60" y="46.6" width="3.0" height="14.10" fill="rgb(11,91,159)"/><line x1="279.90" y1="38.1" x2="279.90" y2="73.8" stroke="rgb(11,91,159)" stroke-width="0.7"/><rect x="278.70" y="50.60" width="2.40" height="11.60" fill="rgb(244,164,96)" stroke="rgb(11,91,159)" stroke-width="0.6"/><line x1="284.70" y1="42.8" x2="284.70" y2="56.9" stroke="rgb(11,91,159)" stroke-width="0.7"/><rect x="283.20" y="53.2" width="3.0" height="2.80" fill="rgb(11,91,159)"/><line x1="289.50" y1="55" x2="289.50" y2="93.5" stroke="rgb(11,91,159)" stroke-width="0.7"/><rect x="288.00" y="55" width="3.0" height="27.20" fill="rgb(11,91,159)"/><line x1="294.30" y1="70" x2="294.30" y2="81.3" stroke="rgb(11,91,159)" stroke-width="0.7"/><rect x="293.10" y="71.30" width="2.40" height="9.70" fill="rgb(244,164,96)" stroke="rgb(11,91,159)" stroke-width="0.6"/><line x1="299.10" y1="27.8" x2="299.10" y2="73.8" stroke="rgb(11,91,159)" stroke-width="0.7"/><rect x="297.90" y="36.60" width="2.40" height="35.00" fill="rgb(244,164,96)" stroke="rgb(11,91,159)" stroke-width="0.6"/><line x1="303.90" y1="32.5" x2="303.90" y2="47.5" stroke="rgb(11,91,159)" stroke-width="0.7"/><rect x="302.40" y="35.3" width="3.0" height="10.30" fill="rgb(11,91,159)"/><line x1="308.70" y1="32" x2="308.70" y2="51.3" stroke="rgb(11,91,159)" stroke-width="0.7"/><rect x="307.50" y="38.40" width="2.40" height="6.90" fill="rgb(244,164,96)" stroke="rgb(11,91,159)" stroke-width="0.6"/><line x1="313.50" y1="30" x2="313.50" y2="41.25" stroke="rgb(11,91,159)" stroke-width="0.7"/><rect x="312.30" y="32.30" width="2.40" height="6.90" fill="rgb(244,164,96)" stroke="rgb(11,91,159)" stroke-width="0.6"/><line x1="318.30" y1="25" x2="318.30" y2="32" stroke="rgb(11,91,159)" stroke-width="0.7"/><rect x="317.10" y="29.05" width="2.40" height="2.65" fill="rgb(244,164,96)" stroke="rgb(11,91,159)" stroke-width="0.6"/><line x1="323.10" y1="22" x2="323.10" y2="32" stroke="rgb(11,91,159)" stroke-width="0.7"/><rect x="321.90" y="25.30" width="2.40" height="3.90" fill="rgb(244,164,96)" stroke="rgb(11,91,159)" stroke-width="0.6"/><line x1="327.90" y1="21.25" x2="327.90" y2="38.75" stroke="rgb(11,91,159)" stroke-width="0.7"/><rect x="326.40" y="25" width="3.0" height="13.00" fill="rgb(11,91,159)"/><line x1="332.70" y1="33.3" x2="332.70" y2="45.8" stroke="rgb(11,91,159)" stroke-width="0.7"/><rect x="331.50" y="36.10" width="2.40" height="1.90" fill="rgb(244,164,96)" stroke="rgb(11,91,159)" stroke-width="0.6"/><line x1="337.50" y1="35" x2="337.50" y2="80" stroke="rgb(11,91,159)" stroke-width="0.7"/><rect x="336.00" y="36.25" width="3.0" height="32.50" fill="rgb(11,91,159)"/><line x1="342.30" y1="52" x2="342.30" y2="70" stroke="rgb(11,91,159)" stroke-width="0.7"/><rect x="341.10" y="60.55" width="2.40" height="9.15" fill="rgb(244,164,96)" stroke="rgb(11,91,159)" stroke-width="0.6"/><line x1="347.10" y1="52.2" x2="347.10" y2="80.3" stroke="rgb(11,91,159)" stroke-width="0.7"/><rect x="345.60" y="61" width="3.0" height="4.90" fill="rgb(11,91,159)"/><line x1="351.90" y1="57.3" x2="351.90" y2="78.5" stroke="rgb(11,91,159)" stroke-width="0.7"/><rect x="350.40" y="65.3" width="3.0" height="3.70" fill="rgb(11,91,159)"/><line x1="356.70" y1="67.5" x2="356.70" y2="96.3" stroke="rgb(11,91,159)" stroke-width="0.7"/><rect x="355.20" y="68.1" width="3.0" height="26.30" fill="rgb(11,91,159)"/><line x1="361.50" y1="93.5" x2="361.50" y2="153.75" stroke="rgb(11,91,159)" stroke-width="0.7"/><rect x="360.00" y="94.4" width="3.0" height="38.10" fill="rgb(11,91,159)"/><line x1="366.30" y1="95.3" x2="366.30" y2="192.5" stroke="rgb(11,91,159)" stroke-width="0.7"/><rect x="364.80" y="132.5" width="3.0" height="41.25" fill="rgb(11,91,159)"/><line x1="371.10" y1="167.5" x2="371.10" y2="200" stroke="rgb(11,91,159)" stroke-width="0.7"/><rect x="369.60" y="175" width="3.0" height="20.00" fill="rgb(11,91,159)"/><line x1="375.90" y1="173.75" x2="375.90" y2="217" stroke="rgb(11,91,159)" stroke-width="0.7"/><rect x="374.40" y="195.5" width="3.0" height="18.50" fill="rgb(11,91,159)"/><line x1="380.70" y1="203.5" x2="380.70" y2="260" stroke="rgb(11,91,159)" stroke-width="0.7"/><rect x="379.20" y="213.5" width="3.0" height="25.80" fill="rgb(11,91,159)"/><line x1="385.50" y1="223.5" x2="385.50" y2="278.75" stroke="rgb(11,91,159)" stroke-width="0.7"/><rect x="384.00" y="239.5" width="3.0" height="18.00" fill="rgb(11,91,159)"/><line x1="390.30" y1="234.5" x2="390.30" y2="278" stroke="rgb(11,91,159)" stroke-width="0.7"/><rect x="389.10" y="251.55" width="2.40" height="6.90" fill="rgb(244,164,96)" stroke="rgb(11,91,159)" stroke-width="0.6"/><line x1="395.10" y1="222.5" x2="395.10" y2="252.5" stroke="rgb(11,91,159)" stroke-width="0.7"/><rect x="393.60" y="250" width="3.0" height="1.75" fill="rgb(11,91,159)"/><line x1="399.90" y1="228.75" x2="399.90" y2="246.25" stroke="rgb(11,91,159)" stroke-width="0.7"/><line x1="398.40" y1="243" x2="401.40" y2="243" stroke="rgb(11,91,159)" stroke-width="0.8"/><line x1="404.70" y1="230" x2="404.70" y2="246.25" stroke="rgb(11,91,159)" stroke-width="0.7"/><line x1="403.20" y1="243.25" x2="406.20" y2="243.25" stroke="rgb(11,91,159)" stroke-width="0.8"/><line x1="409.50" y1="230.5" x2="409.50" y2="245.5" stroke="rgb(11,91,159)" stroke-width="0.7"/><rect x="408.30" y="240.30" width="2.40" height="3.15" fill="rgb(244,164,96)" stroke="rgb(11,91,159)" stroke-width="0.6"/><line x1="414.30" y1="230" x2="414.30" y2="240" stroke="rgb(11,91,159)" stroke-width="0.7"/><rect x="413.10" y="235.80" width="2.40" height="3.40" fill="rgb(244,164,96)" stroke="rgb(11,91,159)" stroke-width="0.6"/><line x1="419.10" y1="233.75" x2="419.10" y2="252.5" stroke="rgb(11,91,159)" stroke-width="0.7"/><rect x="417.60" y="236.25" width="3.0" height="8.25" fill="rgb(11,91,159)"/><line x1="423.90" y1="241.25" x2="423.90" y2="270" stroke="rgb(11,91,159)" stroke-width="0.7"/><rect x="422.40" y="242.5" width="3.0" height="23.75" fill="rgb(11,91,159)"/><line x1="428.70" y1="242" x2="428.70" y2="282.5" stroke="rgb(11,91,159)" stroke-width="0.7"/><rect x="427.50" y="249.05" width="2.40" height="16.90" fill="rgb(244,164,96)" stroke="rgb(11,91,159)" stroke-width="0.6"/><line x1="433.50" y1="247" x2="433.50" y2="260" stroke="rgb(11,91,159)" stroke-width="0.7"/><rect x="432.00" y="248" width="3.0" height="12.00" fill="rgb(11,91,159)"/><line x1="438.30" y1="258.75" x2="438.30" y2="290" stroke="rgb(11,91,159)" stroke-width="0.7"/><rect x="436.80" y="259.5" width="3.0" height="20.50" fill="rgb(11,91,159)"/><line x1="443.10" y1="276.25" x2="443.10" y2="310" stroke="rgb(11,91,159)" stroke-width="0.7"/><line x1="441.60" y1="281.25" x2="444.60" y2="281.25" stroke="rgb(11,91,159)" stroke-width="0.8"/><line x1="447.90" y1="264" x2="447.90" y2="297.5" stroke="rgb(11,91,159)" stroke-width="0.7"/><rect x="446.40" y="281.25" width="3.0" height="11.25" fill="rgb(11,91,159)"/><line x1="452.70" y1="271.7" x2="452.70" y2="297.5" stroke="rgb(11,91,159)" stroke-width="0.7"/><line x1="451.20" y1="292.5" x2="454.20" y2="292.5" stroke="rgb(11,91,159)" stroke-width="0.8"/><line x1="457.50" y1="281" x2="457.50" y2="353" stroke="rgb(11,91,159)" stroke-width="0.7"/><rect x="456.00" y="292.5" width="3.0" height="41.25" fill="rgb(11,91,159)"/><line x1="462.30" y1="333.75" x2="462.30" y2="387.6" stroke="rgb(11,91,159)" stroke-width="0.7"/><rect x="460.80" y="333.75" width="3.0" height="35.00" fill="rgb(11,91,159)"/><line x1="467.10" y1="360" x2="467.10" y2="400" stroke="rgb(11,91,159)" stroke-width="0.7"/><rect x="465.60" y="369" width="3.0" height="5.50" fill="rgb(11,91,159)"/><line x1="471.90" y1="315" x2="471.90" y2="411.5" stroke="rgb(11,91,159)" stroke-width="0.7"/><rect x="470.70" y="315.80" width="2.40" height="57.90" fill="rgb(244,164,96)" stroke="rgb(11,91,159)" stroke-width="0.6"/><line x1="476.70" y1="243.6" x2="476.70" y2="316" stroke="rgb(11,91,159)" stroke-width="0.7"/><rect x="475.50" y="253.30" width="2.40" height="62.40" fill="rgb(244,164,96)" stroke="rgb(11,91,159)" stroke-width="0.6"/><line x1="481.50" y1="204" x2="481.50" y2="277.5" stroke="rgb(11,91,159)" stroke-width="0.7"/><rect x="480.30" y="208.30" width="2.40" height="43.40" fill="rgb(244,164,96)" stroke="rgb(11,91,159)" stroke-width="0.6"/><line x1="486.30" y1="215" x2="486.30" y2="260" stroke="rgb(11,91,159)" stroke-width="0.7"/><rect x="485.10" y="222.30" width="2.40" height="29.40" fill="rgb(244,164,96)" stroke="rgb(11,91,159)" stroke-width="0.6"/><polyline points="1.30,198.00 6.10,185.50 10.90,173.10 15.70,170.50 20.50,170.50 25.30,170.50 30.10,159.30 34.90,159.30 39.70,162.10 44.50,158.10 49.30,149.20 54.10,143.75 58.90,136.25 63.70,135.72 68.50,135.00 73.30,133.54 78.10,131.91 82.90,121.25 87.70,96.00 92.50,91.25 97.30,85.00 102.10,85.00 106.90,88.00 111.70,90.60 116.50,94.00 121.30,94.50 126.10,95.94 130.90,97.50 135.70,104.00 140.50,107.00 145.30,112.00 150.10,114.00 154.90,103.22 159.70,92.00 164.50,90.46 169.30,88.75 174.10,87.15 178.90,85.49 183.70,83.82 188.50,82.50 193.30,67.50 198.10,50.00 202.90,48.75 207.70,47.50 212.50,43.75 217.30,39.87 222.10,37.50 226.90,30.00 231.70,28.66 236.50,28.00 241.30,28.00 246.10,26.25 250.90,30.60 255.70,41.90 260.50,50.30 265.30,50.64 270.10,50.90 274.90,52.20 279.70,50.30 284.50,52.70 289.30,55.00 294.10,64.40 298.90,59.70 303.70,59.62 308.50,59.50 313.30,59.00 318.10,58.28 322.90,57.32 327.70,56.25 332.50,52.50 337.30,51.81 342.10,51.25 346.90,51.25 351.70,51.25 356.50,56.25 361.30,75.00 366.10,105.70 370.90,120.70 375.70,126.30 380.50,155.00 385.30,165.00 390.10,168.31 394.90,171.25 399.70,183.75 404.50,186.25 409.30,222.50 414.10,226.25 418.90,237.29 423.70,245.00 428.50,252.50 433.30,255.80 438.10,262.08 442.90,270.00 447.70,270.00 452.50,270.00 457.30,290.07 462.10,310.00 466.90,319.43 471.70,328.75 476.50,328.75 481.30,315.00 486.10,302.50 490.90,302.40 495.70,302.30 500.50,302.20 505.30,302.10 510.10,302.00 514.90,271.31 519.70,240.00 524.50,239.50 529.30,243.75 534.10,243.53 538.90,243.26 543.70,243.00 548.50,233.75 553.30,222.41 558.10,206.25 562.90,211.25 567.70,213.88 572.50,216.25 577.30,236.25 582.10,243.75 586.90,244.50 591.70,254.20 596.50,259.38 601.30,282.50 606.10,318.75 610.90,327.50 615.70,327.75 620.50,328.00 625.30,333.00 630.10,333.66 634.90,334.50 639.70,362.50 644.50,402.30 649.30,402.30 654.10,402.30 658.90,402.30" fill="none" stroke="rgb(244,91,159)" stroke-width="1.4" stroke-linejoin="round"/><polyline points="1.30,303.30 6.10,295.50 10.90,295.50 15.70,295.50 20.50,295.50 25.30,295.50 30.10,284.90 34.90,284.50 39.70,283.80 44.50,278.35 49.30,271.45 54.10,266.00 58.90,239.60 63.70,226.39 68.50,200.73 73.30,172.50 78.10,153.75 82.90,152.50 87.70,142.75 92.50,133.75 97.30,133.75 102.10,133.75 106.90,133.75 111.70,133.75 116.50,133.75 121.30,133.75 126.10,133.75 130.90,133.75 135.70,133.75 140.50,133.75 145.30,133.75 150.10,133.75 154.90,133.75 159.70,120.99 164.50,110.00 169.30,88.75 174.10,88.55 178.90,88.31 183.70,88.00 188.50,84.80 193.30,80.00 198.10,79.87 202.90,79.72 207.70,79.57 212.50,77.70 217.30,75.00 222.10,71.80 226.90,70.00 231.70,70.00 236.50,70.00 241.30,70.00 246.10,70.00 250.90,70.00 255.70,70.00 260.50,70.00 265.30,70.00 270.10,70.00 274.90,60.36 279.70,50.30 284.50,50.34 289.30,50.38 294.10,50.42 298.90,50.46 303.70,50.50 308.50,50.54 313.30,50.58 318.10,50.62 322.90,50.66 327.70,50.70 332.50,50.74 337.30,50.78 342.10,50.82 346.90,50.86 351.70,50.90 356.50,55.92 361.30,83.10 366.10,98.20 370.90,111.30 375.70,116.00 380.50,142.50 385.30,149.50 390.10,149.50 394.90,149.50 399.70,149.50 404.50,149.50 409.30,149.50 414.10,149.50 418.90,149.50 423.70,149.50 428.50,151.30 433.30,152.50 438.10,162.50 442.90,166.25 447.70,166.25 452.50,170.00 457.30,195.54 462.10,217.50 466.90,224.83 471.70,232.55 476.50,241.25 481.30,250.00 486.10,252.50 490.90,289.50 495.70,291.90 500.50,302.00 505.30,302.00 510.10,302.00 514.90,302.00 519.70,302.00 524.50,302.00 529.30,302.00 534.10,302.00 538.90,302.00 543.70,302.00 548.50,300.50 553.30,294.70 558.10,294.70 562.90,294.70 567.70,294.70 572.50,294.70 577.30,294.70 582.10,294.70 586.90,294.70 591.70,294.70 596.50,263.75 601.30,266.25 606.10,302.50 610.90,303.75 615.70,303.75 620.50,303.75 625.30,303.75 630.10,303.75 634.90,303.75 639.70,303.75 644.50,320.50 649.30,320.50 654.10,320.50 658.90,320.50" fill="none" stroke="rgb(11,91,96)" stroke-width="1.5" stroke-linejoin="round"/></g>
<g clip-path="url(#pc)"><rect x="0" y="0" width="768" height="480" fill="rgb(216,191,216)"/><path d="M20.30 2V467 M39.50 2V467 M58.70 2V467 M77.90 2V467 M97.10 2V467 M116.30 2V467 M135.50 2V467 M154.70 2V467 M173.90 2V467 M193.10 2V467 M212.30 2V467 M231.50 2V467 M250.70 2V467 M269.90 2V467 M289.10 2V467 M308.30 2V467 M327.50 2V467 M346.70 2V467 M365.90 2V467 M385.10 2V467 M404.30 2V467 M423.50 2V467 M442.70 2V467 M461.90 2V467 M481.10 2V467 M500.30 2V467 M519.50 2V467 M538.70 2V467 M557.90 2V467 M577.10 2V467 M596.30 2V467 M615.50 2V467 M634.70 2V467 M653.90 2V467 M673.10 2V467 M692.30 2V467 M711.50 2V467 M730.70 2V467" stroke="rgb(190,162,190)" stroke-width="0.6" stroke-dasharray="1.8 1.8" stroke-dashoffset="0.6" fill="none"/><path d="M2 6.20H736 M2 25.43H736 M2 44.66H736 M2 63.89H736 M2 83.12H736 M2 102.35H736 M2 121.58H736 M2 140.81H736 M2 160.04H736 M2 179.27H736 M2 198.50H736 M2 217.73H736 M2 236.96H736 M2 256.19H736 M2 275.42H736 M2 294.65H736 M2 313.88H736 M2 333.11H736 M2 352.34H736 M2 371.57H736 M2 390.80H736 M2 410.03H736 M2 429.26H736 M2 448.49H736" stroke="rgb(190,162,190)" stroke-width="0.6" stroke-dasharray="1.8 1.8" stroke-dashoffset="0.7" fill="none"/><line x1="1.50" y1="162" x2="1.50" y2="186" stroke="rgb(39,64,39)" stroke-width="0.7"/><rect x="0.00" y="166" width="3.0" height="17.75" fill="rgb(39,64,39)"/><line x1="6.30" y1="148.3" x2="6.30" y2="168.7" stroke="rgb(39,64,39)" stroke-width="0.7"/><rect x="5.10" y="153.60" width="2.40" height="13.60" fill="rgb(216,191,216)" stroke="rgb(39,64,39)" stroke-width="0.6"/><line x1="11.10" y1="149.2" x2="11.10" y2="158" stroke="rgb(39,64,39)" stroke-width="0.7"/><rect x="9.60" y="152.75" width="3.0" height="4.75" fill="rgb(39,64,39)"/><line x1="15.90" y1="153" x2="15.90" y2="167.5" stroke="rgb(39,64,39)" stroke-width="0.7"/><rect x="14.70" y="153.90" width="2.40" height="2.10" fill="rgb(216,191,216)" stroke="rgb(39,64,39)" stroke-width="0.6"/><line x1="20.70" y1="150.5" x2="20.70" y2="167.8" stroke="rgb(39,64,39)" stroke-width="0.7"/><rect x="19.20" y="154" width="3.0" height="7.00" fill="rgb(39,64,39)"/><line x1="25.50" y1="151.5" x2="25.50" y2="164.6" stroke="rgb(39,64,39)" stroke-width="0.7"/><rect x="24.30" y="153.05" width="2.40" height="9.15" fill="rgb(216,191,216)" stroke="rgb(39,64,39)" stroke-width="0.6"/><line x1="30.30" y1="125.3" x2="30.30" y2="164.3" stroke="rgb(39,64,39)" stroke-width="0.7"/><rect x="29.10" y="137.10" width="2.40" height="15.35" fill="rgb(216,191,216)" stroke="rgb(39,64,39)" stroke-width="0.6"/><line x1="35.10" y1="125.3" x2="35.10" y2="177.5" stroke="rgb(39,64,39)" stroke-width="0.7"/><rect x="33.60" y="136.8" width="3.0" height="40.70" fill="rgb(39,64,39)"/><line x1="39.90" y1="167.8" x2="39.90" y2="199.7" stroke="rgb(39,64,39)" stroke-width="0.7"/><rect x="38.70" y="171.70" width="2.40" height="7.30" fill="rgb(216,191,216)" stroke="rgb(39,64,39)" stroke-width="0.6"/><line x1="44.70" y1="115.3" x2="44.70" y2="174" stroke="rgb(39,64,39)" stroke-width="0.7"/><rect x="43.50" y="121.80" width="2.40" height="51.40" fill="rgb(216,191,216)" stroke="rgb(39,64,39)" stroke-width="0.6"/><line x1="49.50" y1="101.5" x2="49.50" y2="122.5" stroke="rgb(39,64,39)" stroke-width="0.7"/><rect x="48.30" y="113.30" width="2.40" height="7.40" fill="rgb(216,191,216)" stroke="rgb(39,64,39)" stroke-width="0.6"/><line x1="54.30" y1="81.4" x2="54.30" y2="113.3" stroke="rgb(39,64,39)" stroke-width="0.7"/><rect x="53.10" y="88.00" width="2.40" height="25.00" fill="rgb(216,191,216)" stroke="rgb(39,64,39)" stroke-width="0.6"/><line x1="59.10" y1="73" x2="59.10" y2="92.3" stroke="rgb(39,64,39)" stroke-width="0.7"/><rect x="57.60" y="87.3" width="3.0" height="1.00" fill="rgb(39,64,39)"/><line x1="63.90" y1="75.4" x2="63.90" y2="89.7" stroke="rgb(39,64,39)" stroke-width="0.7"/><line x1="62.40" y1="85.3" x2="65.40" y2="85.3" stroke="rgb(39,64,39)" stroke-width="0.8"/><line x1="68.70" y1="75.6" x2="68.70" y2="90.7" stroke="rgb(39,64,39)" stroke-width="0.7"/><rect x="67.50" y="77.00" width="2.40" height="2.50" fill="rgb(216,191,216)" stroke="rgb(39,64,39)" stroke-width="0.6"/><line x1="73.50" y1="68.3" x2="73.50" y2="82.4" stroke="rgb(39,64,39)" stroke-width="0.7"/><rect x="72.00" y="77.5" width="3.0" height="2.30" fill="rgb(39,64,39)"/><line x1="78.30" y1="71.25" x2="78.30" y2="82.4" stroke="rgb(39,64,39)" stroke-width="0.7"/><line x1="76.80" y1="79" x2="79.80" y2="79" stroke="rgb(39,64,39)" stroke-width="0.8"/><line x1="83.10" y1="73.3" x2="83.10" y2="85.5" stroke="rgb(39,64,39)" stroke-width="0.7"/><rect x="81.60" y="78.75" width="3.0" height="1.55" fill="rgb(39,64,39)"/><line x1="87.90" y1="77.2" x2="87.90" y2="85.5" stroke="rgb(39,64,39)" stroke-width="0.7"/><rect x="86.70" y="77.50" width="2.40" height="2.00" fill="rgb(216,191,216)" stroke="rgb(39,64,39)" stroke-width="0.6"/><line x1="92.70" y1="78" x2="92.70" y2="93.3" stroke="rgb(39,64,39)" stroke-width="0.7"/><rect x="91.20" y="78.2" width="3.0" height="13.05" fill="rgb(39,64,39)"/><line x1="97.50" y1="90.2" x2="97.50" y2="102.5" stroke="rgb(39,64,39)" stroke-width="0.7"/><rect x="96.00" y="92" width="3.0" height="10.20" fill="rgb(39,64,39)"/><line x1="102.30" y1="85" x2="102.30" y2="102.5" stroke="rgb(39,64,39)" stroke-width="0.7"/><rect x="101.10" y="94.70" width="2.40" height="7.20" fill="rgb(216,191,216)" stroke="rgb(39,64,39)" stroke-width="0.6"/><line x1="107.10" y1="91.25" x2="107.10" y2="105.8" stroke="rgb(39,64,39)" stroke-width="0.7"/><rect x="105.60" y="94.4" width="3.0" height="10.40" fill="rgb(39,64,39)"/><line x1="111.90" y1="96.6" x2="111.90" y2="111" stroke="rgb(39,64,39)" stroke-width="0.7"/><rect x="110.40" y="105.2" width="3.0" height="4.60" fill="rgb(39,64,39)"/><line x1="116.70" y1="102.5" x2="116.70" y2="116.9" stroke="rgb(39,64,39)" stroke-width="0.7"/><rect x="115.20" y="109.4" width="3.0" height="6.60" fill="rgb(39,64,39)"/><line x1="121.50" y1="106.7" x2="121.50" y2="116.4" stroke="rgb(39,64,39)" stroke-width="0.7"/><rect x="120.30" y="110.10" width="2.40" height="6.00" fill="rgb(216,191,216)" stroke="rgb(39,64,39)" stroke-width="0.6"/><line x1="126.30" y1="103" x2="126.30" y2="111.9" stroke="rgb(39,64,39)" stroke-width="0.7"/><rect x="125.10" y="108.10" width="2.40" height="1.90" fill="rgb(216,191,216)" stroke="rgb(39,64,39)" stroke-width="0.6"/><line x1="131.10" y1="103" x2="131.10" y2="118.75" stroke="rgb(39,64,39)" stroke-width="0.7"/><rect x="129.60" y="107.5" width="3.0" height="9.10" fill="rgb(39,64,39)"/><line x1="135.90" y1="106" x2="135.90" y2="122.3" stroke="rgb(39,64,39)" stroke-width="0.7"/><rect x="134.70" y="113.30" width="2.40" height="1.70" fill="rgb(216,191,216)" stroke="rgb(39,64,39)" stroke-width="0.6"/><line x1="140.70" y1="94.7" x2="140.70" y2="119.7" stroke="rgb(39,64,39)" stroke-width="0.7"/><rect x="139.50" y="97.20" width="2.40" height="15.50" fill="rgb(216,191,216)" stroke="rgb(39,64,39)" stroke-width="0.6"/><line x1="145.50" y1="97.8" x2="145.50" y2="132.5" stroke="rgb(39,64,39)" stroke-width="0.7"/><rect x="144.00" y="97.8" width="3.0" height="26.90" fill="rgb(39,64,39)"/><line x1="150.30" y1="112" x2="150.30" y2="131" stroke="rgb(39,64,39)" stroke-width="0.7"/><rect x="149.10" y="114.80" width="2.40" height="10.40" fill="rgb(216,191,216)" stroke="rgb(39,64,39)" stroke-width="0.6"/><line x1="155.10" y1="69.5" x2="155.10" y2="113.75" stroke="rgb(39,64,39)" stroke-width="0.7"/><rect x="153.90" y="72.30" width="2.40" height="40.40" fill="rgb(216,191,216)" stroke="rgb(39,64,39)" stroke-width="0.6"/><line x1="159.90" y1="51" x2="159.90" y2="73.75" stroke="rgb(39,64,39)" stroke-width="0.7"/><rect x="158.70" y="52.80" width="2.40" height="19.40" fill="rgb(216,191,216)" stroke="rgb(39,64,39)" stroke-width="0.6"/><line x1="164.70" y1="49.5" x2="164.70" y2="66" stroke="rgb(39,64,39)" stroke-width="0.7"/><line x1="163.20" y1="54" x2="166.20" y2="54" stroke="rgb(39,64,39)" stroke-width="0.8"/><line x1="169.50" y1="45" x2="169.50" y2="66" stroke="rgb(39,64,39)" stroke-width="0.7"/><rect x="168.00" y="53.75" width="3.0" height="5.00" fill="rgb(39,64,39)"/><line x1="174.30" y1="49.5" x2="174.30" y2="64.5" stroke="rgb(39,64,39)" stroke-width="0.7"/><line x1="172.80" y1="57" x2="175.80" y2="57" stroke="rgb(39,64,39)" stroke-width="0.8"/><line x1="179.10" y1="47.5" x2="179.10" y2="66" stroke="rgb(39,64,39)" stroke-width="0.7"/><rect x="177.60" y="52" width="3.0" height="8.50" fill="rgb(39,64,39)"/><line x1="183.90" y1="45" x2="183.90" y2="60.5" stroke="rgb(39,64,39)" stroke-width="0.7"/><rect x="182.70" y="49.80" width="2.40" height="10.40" fill="rgb(216,191,216)" stroke="rgb(39,64,39)" stroke-width="0.6"/><line x1="188.70" y1="33.75" x2="188.70" y2="51" stroke="rgb(39,64,39)" stroke-width="0.7"/><rect x="187.50" y="37.30" width="2.40" height="11.90" fill="rgb(216,191,216)" stroke="rgb(39,64,39)" stroke-width="0.6"/><line x1="193.50" y1="28.75" x2="193.50" y2="45" stroke="rgb(39,64,39)" stroke-width="0.7"/><rect x="192.00" y="37" width="3.0" height="3.00" fill="rgb(39,64,39)"/><line x1="198.30" y1="35" x2="198.30" y2="47.5" stroke="rgb(39,64,39)" stroke-width="0.7"/><line x1="196.80" y1="38.75" x2="199.80" y2="38.75" stroke="rgb(39,64,39)" stroke-width="0.8"/><line x1="203.10" y1="35" x2="203.10" y2="48" stroke="rgb(39,64,39)" stroke-width="0.7"/><rect x="201.60" y="40" width="3.0" height="2.50" fill="rgb(39,64,39)"/><line x1="207.90" y1="32.5" x2="207.90" y2="43.75" stroke="rgb(39,64,39)" stroke-width="0.7"/><rect x="206.70" y="35.30" width="2.40" height="6.90" fill="rgb(216,191,216)" stroke="rgb(39,64,39)" stroke-width="0.6"/><line x1="212.70" y1="25" x2="212.70" y2="34.5" stroke="rgb(39,64,39)" stroke-width="0.7"/><rect x="211.50" y="27.30" width="2.40" height="6.90" fill="rgb(216,191,216)" stroke="rgb(39,64,39)" stroke-width="0.6"/><line x1="217.50" y1="12.5" x2="217.50" y2="27" stroke="rgb(39,64,39)" stroke-width="0.7"/><rect x="216.30" y="23.30" width="2.40" height="2.65" fill="rgb(216,191,216)" stroke="rgb(39,64,39)" stroke-width="0.6"/><line x1="222.30" y1="13" x2="222.30" y2="28" stroke="rgb(39,64,39)" stroke-width="0.7"/><rect x="221.10" y="21.55" width="2.40" height="1.15" fill="rgb(216,191,216)" stroke="rgb(39,64,39)" stroke-width="0.6"/><line x1="227.10" y1="8.75" x2="227.10" y2="21.25" stroke="rgb(39,64,39)" stroke-width="0.7"/><rect x="225.90" y="12.30" width="2.40" height="8.65" fill="rgb(216,191,216)" stroke="rgb(39,64,39)" stroke-width="0.6"/><line x1="231.90" y1="8.75" x2="231.90" y2="26.25" stroke="rgb(39,64,39)" stroke-width="0.7"/><rect x="230.40" y="12" width="3.0" height="8.50" fill="rgb(39,64,39)"/><line x1="236.70" y1="17.5" x2="236.70" y2="39.5" stroke="rgb(39,64,39)" stroke-width="0.7"/><rect x="235.20" y="20" width="3.0" height="15.00" fill="rgb(39,64,39)"/><line x1="241.50" y1="12.5" x2="241.50" y2="40.5" stroke="rgb(39,64,39)" stroke-width="0.7"/><rect x="240.30" y="16.55" width="2.40" height="18.15" fill="rgb(216,191,216)" stroke="rgb(39,64,39)" stroke-width="0.6"/><line x1="246.30" y1="11.25" x2="246.30" y2="20" stroke="rgb(39,64,39)" stroke-width="0.7"/><line x1="244.80" y1="17" x2="247.80" y2="17" stroke="rgb(39,64,39)" stroke-width="0.8"/><line x1="251.10" y1="17.9" x2="251.10" y2="56" stroke="rgb(39,64,39)" stroke-width="0.7"/><rect x="249.60" y="17.9" width="3.0" height="26.80" fill="rgb(39,64,39)"/><line x1="255.90" y1="34.4" x2="255.90" y2="78.5" stroke="rgb(39,64,39)" stroke-width="0.7"/><rect x="254.40" y="44.7" width="3.0" height="24.40" fill="rgb(39,64,39)"/><line x1="260.70" y1="56.9" x2="260.70" y2="93.5" stroke="rgb(39,64,39)" stroke-width="0.7"/><rect x="259.20" y="69.1" width="3.0" height="10.30" fill="rgb(39,64,39)"/><line x1="265.50" y1="41.9" x2="265.50" y2="83.2" stroke="rgb(39,64,39)" stroke-width="0.7"/><rect x="264.30" y="45.00" width="2.40" height="33.20" fill="rgb(216,191,216)" stroke="rgb(39,64,39)" stroke-width="0.6"/><line x1="270.30" y1="37.2" x2="270.30" y2="55" stroke="rgb(39,64,39)" stroke-width="0.7"/><line x1="268.80" y1="45.6" x2="271.80" y2="45.6" stroke="rgb(39,64,39)" stroke-width="0.8"/><line x1="275.10" y1="43.8" x2="275.10" y2="62.5" stroke="rgb(39,64,39)" stroke-width="0.7"/><rect x="273.60" y="46.6" width="3.0" height="14.10" fill="rgb(39,64,39)"/><line x1="279.90" y1="38.1" x2="279.90" y2="73.8" stroke="rgb(39,64,39)" stroke-width="0.7"/><rect x="278.70" y="50.60" width="2.40" height="11.60" fill="rgb(216,191,216)" stroke="rgb(39,64,39)" stroke-width="0.6"/><line x1="284.70" y1="42.8" x2="284.70" y2="56.9" stroke="rgb(39,64,39)" stroke-width="0.7"/><rect x="283.20" y="53.2" width="3.0" height="2.80" fill="rgb(39,64,39)"/><line x1="289.50" y1="55" x2="289.50" y2="93.5" stroke="rgb(39,64,39)" stroke-width="0.7"/><rect x="288.00" y="55" width="3.0" height="27.20" fill="rgb(39,64,39)"/><line x1="294.30" y1="70" x2="294.30" y2="81.3" stroke="rgb(39,64,39)" stroke-width="0.7"/><rect x="293.10" y="71.30" width="2.40" height="9.70" fill="rgb(216,191,216)" stroke="rgb(39,64,39)" stroke-width="0.6"/><line x1="299.10" y1="27.8" x2="299.10" y2="73.8" stroke="rgb(39,64,39)" stroke-width="0.7"/><rect x="297.90" y="36.60" width="2.40" height="35.00" fill="rgb(216,191,216)" stroke="rgb(39,64,39)" stroke-width="0.6"/><line x1="303.90" y1="32.5" x2="303.90" y2="47.5" stroke="rgb(39,64,39)" stroke-width="0.7"/><rect x="302.40" y="35.3" width="3.0" height="10.30" fill="rgb(39,64,39)"/><line x1="308.70" y1="32" x2="308.70" y2="51.3" stroke="rgb(39,64,39)" stroke-width="0.7"/><rect x="307.50" y="38.40" width="2.40" height="6.90" fill="rgb(216,191,216)" stroke="rgb(39,64,39)" stroke-width="0.6"/><line x1="313.50" y1="30" x2="313.50" y2="41.25" stroke="rgb(39,64,39)" stroke-width="0.7"/><rect x="312.30" y="32.30" width="2.40" height="6.90" fill="rgb(216,191,216)" stroke="rgb(39,64,39)" stroke-width="0.6"/><line x1="318.30" y1="25" x2="318.30" y2="32" stroke="rgb(39,64,39)" stroke-width="0.7"/><rect x="317.10" y="29.05" width="2.40" height="2.65" fill="rgb(216,191,216)" stroke="rgb(39,64,39)" stroke-width="0.6"/><line x1="323.10" y1="22" x2="323.10" y2="32" stroke="rgb(39,64,39)" stroke-width="0.7"/><rect x="321.90" y="25.30" width="2.40" height="3.90" fill="rgb(216,191,216)" stroke="rgb(39,64,39)" stroke-width="0.6"/><line x1="327.90" y1="21.25" x2="327.90" y2="38.75" stroke="rgb(39,64,39)" stroke-width="0.7"/><rect x="326.40" y="25" width="3.0" height="13.00" fill="rgb(39,64,39)"/><line x1="332.70" y1="33.3" x2="332.70" y2="45.8" stroke="rgb(39,64,39)" stroke-width="0.7"/><rect x="331.50" y="36.10" width="2.40" height="1.90" fill="rgb(216,191,216)" stroke="rgb(39,64,39)" stroke-width="0.6"/><line x1="337.50" y1="35" x2="337.50" y2="80" stroke="rgb(39,64,39)" stroke-width="0.7"/><rect x="336.00" y="36.25" width="3.0" height="32.50" fill="rgb(39,64,39)"/><line x1="342.30" y1="52" x2="342.30" y2="70" stroke="rgb(39,64,39)" stroke-width="0.7"/><rect x="341.10" y="60.55" width="2.40" height="9.15" fill="rgb(216,191,216)" stroke="rgb(39,64,39)" stroke-width="0.6"/><line x1="347.10" y1="52.2" x2="347.10" y2="80.3" stroke="rgb(39,64,39)" stroke-width="0.7"/><rect x="345.60" y="61" width="3.0" height="4.90" fill="rgb(39,64,39)"/><line x1="351.90" y1="57.3" x2="351.90" y2="78.5" stroke="rgb(39,64,39)" stroke-width="0.7"/><rect x="350.40" y="65.3" width="3.0" height="3.70" fill="rgb(39,64,39)"/><line x1="356.70" y1="67.5" x2="356.70" y2="96.3" stroke="rgb(39,64,39)" stroke-width="0.7"/><rect x="355.20" y="68.1" width="3.0" height="26.30" fill="rgb(39,64,39)"/><line x1="361.50" y1="93.5" x2="361.50" y2="153.75" stroke="rgb(39,64,39)" stroke-width="0.7"/><rect x="360.00" y="94.4" width="3.0" height="38.10" fill="rgb(39,64,39)"/><line x1="366.30" y1="95.3" x2="366.30" y2="192.5" stroke="rgb(39,64,39)" stroke-width="0.7"/><rect x="364.80" y="132.5" width="3.0" height="41.25" fill="rgb(39,64,39)"/><line x1="371.10" y1="167.5" x2="371.10" y2="200" stroke="rgb(39,64,39)" stroke-width="0.7"/><rect x="369.60" y="175" width="3.0" height="20.00" fill="rgb(39,64,39)"/><line x1="375.90" y1="173.75" x2="375.90" y2="217" stroke="rgb(39,64,39)" stroke-width="0.7"/><rect x="374.40" y="195.5" width="3.0" height="18.50" fill="rgb(39,64,39)"/><line x1="380.70" y1="203.5" x2="380.70" y2="260" stroke="rgb(39,64,39)" stroke-width="0.7"/><rect x="379.20" y="213.5" width="3.0" height="25.80" fill="rgb(39,64,39)"/><line x1="385.50" y1="223.5" x2="385.50" y2="278.75" stroke="rgb(39,64,39)" stroke-width="0.7"/><rect x="384.00" y="239.5" width="3.0" height="18.00" fill="rgb(39,64,39)"/><line x1="390.30" y1="234.5" x2="390.30" y2="278" stroke="rgb(39,64,39)" stroke-width="0.7"/><rect x="389.10" y="251.55" width="2.40" height="6.90" fill="rgb(216,191,216)" stroke="rgb(39,64,39)" stroke-width="0.6"/><line x1="395.10" y1="222.5" x2="395.10" y2="252.5" stroke="rgb(39,64,39)" stroke-width="0.7"/><rect x="393.60" y="250" width="3.0" height="1.75" fill="rgb(39,64,39)"/><line x1="399.90" y1="228.75" x2="399.90" y2="246.25" stroke="rgb(39,64,39)" stroke-width="0.7"/><line x1="398.40" y1="243" x2="401.40" y2="243" stroke="rgb(39,64,39)" stroke-width="0.8"/><line x1="404.70" y1="230" x2="404.70" y2="246.25" stroke="rgb(39,64,39)" stroke-width="0.7"/><line x1="403.20" y1="243.25" x2="406.20" y2="243.25" stroke="rgb(39,64,39)" stroke-width="0.8"/><line x1="409.50" y1="230.5" x2="409.50" y2="245.5" stroke="rgb(39,64,39)" stroke-width="0.7"/><rect x="408.30" y="240.30" width="2.40" height="3.15" fill="rgb(216,191,216)" stroke="rgb(39,64,39)" stroke-width="0.6"/><line x1="414.30" y1="230" x2="414.30" y2="240" stroke="rgb(39,64,39)" stroke-width="0.7"/><rect x="413.10" y="235.80" width="2.40" height="3.40" fill="rgb(216,191,216)" stroke="rgb(39,64,39)" stroke-width="0.6"/><line x1="419.10" y1="233.75" x2="419.10" y2="252.5" stroke="rgb(39,64,39)" stroke-width="0.7"/><rect x="417.60" y="236.25" width="3.0" height="8.25" fill="rgb(39,64,39)"/><line x1="423.90" y1="241.25" x2="423.90" y2="270" stroke="rgb(39,64,39)" stroke-width="0.7"/><rect x="422.40" y="242.5" width="3.0" height="23.75" fill="rgb(39,64,39)"/><line x1="428.70" y1="242" x2="428.70" y2="282.5" stroke="rgb(39,64,39)" stroke-width="0.7"/><rect x="427.50" y="249.05" width="2.40" height="16.90" fill="rgb(216,191,216)" stroke="rgb(39,64,39)" stroke-width="0.6"/><line x1="433.50" y1="247" x2="433.50" y2="260" stroke="rgb(39,64,39)" stroke-width="0.7"/><rect x="432.00" y="248" width="3.0" height="12.00" fill="rgb(39,64,39)"/><line x1="438.30" y1="258.75" x2="438.30" y2="290" stroke="rgb(39,64,39)" stroke-width="0.7"/><rect x="436.80" y="259.5" width="3.0" height="20.50" fill="rgb(39,64,39)"/><line x1="443.10" y1="276.25" x2="443.10" y2="310" stroke="rgb(39,64,39)" stroke-width="0.7"/><line x1="441.60" y1="281.25" x2="444.60" y2="281.25" stroke="rgb(39,64,39)" stroke-width="0.8"/><line x1="447.90" y1="264" x2="447.90" y2="297.5" stroke="rgb(39,64,39)" stroke-width="0.7"/><rect x="446.40" y="281.25" width="3.0" height="11.25" fill="rgb(39,64,39)"/><line x1="452.70" y1="271.7" x2="452.70" y2="297.5" stroke="rgb(39,64,39)" stroke-width="0.7"/><line x1="451.20" y1="292.5" x2="454.20" y2="292.5" stroke="rgb(39,64,39)" stroke-width="0.8"/><line x1="457.50" y1="281" x2="457.50" y2="353" stroke="rgb(39,64,39)" stroke-width="0.7"/><rect x="456.00" y="292.5" width="3.0" height="41.25" fill="rgb(39,64,39)"/><line x1="462.30" y1="333.75" x2="462.30" y2="387.6" stroke="rgb(39,64,39)" stroke-width="0.7"/><rect x="460.80" y="333.75" width="3.0" height="35.00" fill="rgb(39,64,39)"/><line x1="467.10" y1="360" x2="467.10" y2="400" stroke="rgb(39,64,39)" stroke-width="0.7"/><rect x="465.60" y="369" width="3.0" height="5.50" fill="rgb(39,64,39)"/><line x1="471.90" y1="315" x2="471.90" y2="411.5" stroke="rgb(39,64,39)" stroke-width="0.7"/><rect x="470.70" y="315.80" width="2.40" height="57.90" fill="rgb(216,191,216)" stroke="rgb(39,64,39)" stroke-width="0.6"/><line x1="476.70" y1="243.6" x2="476.70" y2="316" stroke="rgb(39,64,39)" stroke-width="0.7"/><rect x="475.50" y="253.30" width="2.40" height="62.40" fill="rgb(216,191,216)" stroke="rgb(39,64,39)" stroke-width="0.6"/><line x1="481.50" y1="204" x2="481.50" y2="277.5" stroke="rgb(39,64,39)" stroke-width="0.7"/><rect x="480.30" y="208.30" width="2.40" height="43.40" fill="rgb(216,191,216)" stroke="rgb(39,64,39)" stroke-width="0.6"/><line x1="486.30" y1="215" x2="486.30" y2="260" stroke="rgb(39,64,39)" stroke-width="0.7"/><rect x="485.10" y="222.30" width="2.40" height="29.40" fill="rgb(216,191,216)" stroke="rgb(39,64,39)" stroke-width="0.6"/><line x1="491.10" y1="215.3" x2="491.10" y2="266" stroke="rgb(39,64,39)" stroke-width="0.7"/><rect x="489.60" y="221.3" width="3.0" height="13.50" fill="rgb(39,64,39)"/><line x1="495.90" y1="206.6" x2="495.90" y2="252.2" stroke="rgb(39,64,39)" stroke-width="0.7"/><rect x="494.70" y="209.30" width="2.40" height="25.70" fill="rgb(216,191,216)" stroke="rgb(39,64,39)" stroke-width="0.6"/><line x1="500.70" y1="203.4" x2="500.70" y2="272" stroke="rgb(39,64,39)" stroke-width="0.7"/><rect x="499.20" y="209" width="3.0" height="49.80" fill="rgb(39,64,39)"/><line x1="505.50" y1="238.75" x2="505.50" y2="271.25" stroke="rgb(39,64,39)" stroke-width="0.7"/><rect x="504.30" y="245.90" width="2.40" height="10.80" fill="rgb(216,191,216)" stroke="rgb(39,64,39)" stroke-width="0.6"/><line x1="510.30" y1="233" x2="510.30" y2="285.8" stroke="rgb(39,64,39)" stroke-width="0.7"/><rect x="509.10" y="240.30" width="2.40" height="15.40" fill="rgb(216,191,216)" stroke="rgb(39,64,39)" stroke-width="0.6"/><line x1="515.10" y1="218.75" x2="515.10" y2="258" stroke="rgb(39,64,39)" stroke-width="0.7"/><rect x="513.90" y="224.05" width="2.40" height="16.15" fill="rgb(216,191,216)" stroke="rgb(39,64,39)" stroke-width="0.6"/><line x1="519.90" y1="216.25" x2="519.90" y2="233.75" stroke="rgb(39,64,39)" stroke-width="0.7"/><rect x="518.40" y="223" width="3.0" height="10.00" fill="rgb(39,64,39)"/><line x1="524.70" y1="212.5" x2="524.70" y2="233" stroke="rgb(39,64,39)" stroke-width="0.7"/><rect x="523.50" y="214.05" width="2.40" height="18.65" fill="rgb(216,191,216)" stroke="rgb(39,64,39)" stroke-width="0.6"/><line x1="529.50" y1="207.5" x2="529.50" y2="217.5" stroke="rgb(39,64,39)" stroke-width="0.7"/><rect x="528.30" y="209.80" width="2.40" height="6.15" fill="rgb(216,191,216)" stroke="rgb(39,64,39)" stroke-width="0.6"/><line x1="534.30" y1="203.75" x2="534.30" y2="211.25" stroke="rgb(39,64,39)" stroke-width="0.7"/><rect x="533.10" y="205.30" width="2.40" height="3.90" fill="rgb(216,191,216)" stroke="rgb(39,64,39)" stroke-width="0.6"/><line x1="539.10" y1="202" x2="539.10" y2="215" stroke="rgb(39,64,39)" stroke-width="0.7"/><rect x="537.60" y="205" width="3.0" height="9.50" fill="rgb(39,64,39)"/><line x1="543.90" y1="207.5" x2="543.90" y2="218.75" stroke="rgb(39,64,39)" stroke-width="0.7"/><rect x="542.40" y="215" width="3.0" height="3.00" fill="rgb(39,64,39)"/><line x1="548.70" y1="193.75" x2="548.70" y2="218.75" stroke="rgb(39,64,39)" stroke-width="0.7"/><rect x="547.50" y="196.55" width="2.40" height="20.65" fill="rgb(216,191,216)" stroke="rgb(39,64,39)" stroke-width="0.6"/><line x1="553.50" y1="180" x2="553.50" y2="196.25" stroke="rgb(39,64,39)" stroke-width="0.7"/><rect x="552.30" y="182.80" width="2.40" height="11.90" fill="rgb(216,191,216)" stroke="rgb(39,64,39)" stroke-width="0.6"/><line x1="558.30" y1="180" x2="558.30" y2="205" stroke="rgb(39,64,39)" stroke-width="0.7"/><rect x="556.80" y="182.5" width="3.0" height="21.25" fill="rgb(39,64,39)"/><line x1="563.10" y1="202.5" x2="563.10" y2="242.5" stroke="rgb(39,64,39)" stroke-width="0.7"/><rect x="561.60" y="203.75" width="3.0" height="31.25" fill="rgb(39,64,39)"/><line x1="567.90" y1="215" x2="567.90" y2="243.75" stroke="rgb(39,64,39)" stroke-width="0.7"/><rect x="566.70" y="231.55" width="2.40" height="4.40" fill="rgb(216,191,216)" stroke="rgb(39,64,39)" stroke-width="0.6"/><line x1="572.70" y1="225" x2="572.70" y2="258.75" stroke="rgb(39,64,39)" stroke-width="0.7"/><rect x="571.20" y="225" width="3.0" height="27.50" fill="rgb(39,64,39)"/><line x1="577.50" y1="251.25" x2="577.50" y2="296.6" stroke="rgb(39,64,39)" stroke-width="0.7"/><rect x="576.00" y="253.75" width="3.0" height="20.00" fill="rgb(39,64,39)"/><line x1="582.30" y1="225" x2="582.30" y2="310.5" stroke="rgb(39,64,39)" stroke-width="0.7"/><rect x="581.10" y="244.05" width="2.40" height="29.40" fill="rgb(216,191,216)" stroke="rgb(39,64,39)" stroke-width="0.6"/><line x1="587.10" y1="236.25" x2="587.10" y2="288" stroke="rgb(39,64,39)" stroke-width="0.7"/><rect x="585.60" y="243.75" width="3.0" height="35.25" fill="rgb(39,64,39)"/><line x1="591.90" y1="238.75" x2="591.90" y2="330" stroke="rgb(39,64,39)" stroke-width="0.7"/><rect x="590.70" y="239.05" width="2.40" height="39.65" fill="rgb(216,191,216)" stroke="rgb(39,64,39)" stroke-width="0.6"/><line x1="596.70" y1="238.75" x2="596.70" y2="305" stroke="rgb(39,64,39)" stroke-width="0.7"/><rect x="595.20" y="238.75" width="3.0" height="66.25" fill="rgb(39,64,39)"/><line x1="601.50" y1="292.5" x2="601.50" y2="355" stroke="rgb(39,64,39)" stroke-width="0.7"/><rect x="600.00" y="303.7" width="3.0" height="48.80" fill="rgb(39,64,39)"/><line x1="606.30" y1="347.5" x2="606.30" y2="420" stroke="rgb(39,64,39)" stroke-width="0.7"/><rect x="604.80" y="352.5" width="3.0" height="67.50" fill="rgb(39,64,39)"/><line x1="611.10" y1="367.5" x2="611.10" y2="430" stroke="rgb(39,64,39)" stroke-width="0.7"/><rect x="609.90" y="367.80" width="2.40" height="53.15" fill="rgb(216,191,216)" stroke="rgb(39,64,39)" stroke-width="0.6"/><line x1="615.90" y1="355" x2="615.90" y2="370" stroke="rgb(39,64,39)" stroke-width="0.7"/><rect x="614.70" y="360.30" width="2.40" height="8.15" fill="rgb(216,191,216)" stroke="rgb(39,64,39)" stroke-width="0.6"/><line x1="620.70" y1="345" x2="620.70" y2="368.75" stroke="rgb(39,64,39)" stroke-width="0.7"/><rect x="619.50" y="354.05" width="2.40" height="6.90" fill="rgb(216,191,216)" stroke="rgb(39,64,39)" stroke-width="0.6"/><line x1="625.50" y1="348.75" x2="625.50" y2="382.5" stroke="rgb(39,64,39)" stroke-width="0.7"/><rect x="624.00" y="353.75" width="3.0" height="21.25" fill="rgb(39,64,39)"/><line x1="630.30" y1="341.25" x2="630.30" y2="376.25" stroke="rgb(39,64,39)" stroke-width="0.7"/><rect x="629.10" y="349.80" width="2.40" height="24.90" fill="rgb(216,191,216)" stroke="rgb(39,64,39)" stroke-width="0.6"/><line x1="635.10" y1="343.75" x2="635.10" y2="380" stroke="rgb(39,64,39)" stroke-width="0.7"/><rect x="633.60" y="349.5" width="3.0" height="30.50" fill="rgb(39,64,39)"/><line x1="639.90" y1="378" x2="639.90" y2="404" stroke="rgb(39,64,39)" stroke-width="0.7"/><rect x="638.40" y="380" width="3.0" height="20.00" fill="rgb(39,64,39)"/><line x1="644.70" y1="400" x2="644.70" y2="464" stroke="rgb(39,64,39)" stroke-width="0.7"/><rect x="643.20" y="400" width="3.0" height="24.00" fill="rgb(39,64,39)"/><line x1="649.50" y1="413.3" x2="649.50" y2="438.3" stroke="rgb(39,64,39)" stroke-width="0.7"/><rect x="648.00" y="423.5" width="3.0" height="10.20" fill="rgb(39,64,39)"/><line x1="654.30" y1="420" x2="654.30" y2="456.7" stroke="rgb(39,64,39)" stroke-width="0.7"/><rect x="652.80" y="432.5" width="3.0" height="17.50" fill="rgb(39,64,39)"/><line x1="659.10" y1="448.75" x2="659.10" y2="463.3" stroke="rgb(39,64,39)" stroke-width="0.7"/><rect x="657.60" y="450" width="3.0" height="9.20" fill="rgb(39,64,39)"/><polyline points="1.30,198.00 6.10,185.50 10.90,173.10 15.70,170.50 20.50,170.50 25.30,170.50 30.10,159.30 34.90,159.30 39.70,162.10 44.50,158.10 49.30,149.20 54.10,143.75 58.90,136.25 63.70,135.72 68.50,135.00 73.30,133.54 78.10,131.91 82.90,121.25 87.70,96.00 92.50,91.25 97.30,85.00 102.10,85.00 106.90,88.00 111.70,90.60 116.50,94.00 121.30,94.50 126.10,95.94 130.90,97.50 135.70,104.00 140.50,107.00 145.30,112.00 150.10,114.00 154.90,103.22 159.70,92.00 164.50,90.46 169.30,88.75 174.10,87.15 178.90,85.49 183.70,83.82 188.50,82.50 193.30,67.50 198.10,50.00 202.90,48.75 207.70,47.50 212.50,43.75 217.30,39.87 222.10,37.50 226.90,30.00 231.70,28.66 236.50,28.00 241.30,28.00 246.10,26.25 250.90,30.60 255.70,41.90 260.50,50.30 265.30,50.64 270.10,50.90 274.90,52.20 279.70,50.30 284.50,52.70 289.30,55.00 294.10,64.40 298.90,59.70 303.70,59.62 308.50,59.50 313.30,59.00 318.10,58.28 322.90,57.32 327.70,56.25 332.50,52.50 337.30,51.81 342.10,51.25 346.90,51.25 351.70,51.25 356.50,56.25 361.30,75.00 366.10,105.70 370.90,120.70 375.70,126.30 380.50,155.00 385.30,165.00 390.10,168.31 394.90,171.25 399.70,183.75 404.50,186.25 409.30,222.50 414.10,226.25 418.90,237.29 423.70,245.00 428.50,252.50 433.30,255.80 438.10,262.08 442.90,270.00 447.70,270.00 452.50,270.00 457.30,290.07 462.10,310.00 466.90,319.43 471.70,328.75 476.50,328.75 481.30,315.00 486.10,302.50 490.90,302.40 495.70,302.30 500.50,302.20 505.30,302.10 510.10,302.00 514.90,271.31 519.70,240.00 524.50,239.50 529.30,243.75 534.10,243.53 538.90,243.26 543.70,243.00 548.50,233.75 553.30,222.41 558.10,206.25 562.90,211.25 567.70,213.88 572.50,216.25 577.30,236.25 582.10,243.75 586.90,244.50 591.70,254.20 596.50,259.38 601.30,282.50 606.10,318.75 610.90,327.50 615.70,327.75 620.50,328.00 625.30,333.00 630.10,333.66 634.90,334.50 639.70,362.50 644.50,402.30 649.30,402.30 654.10,402.30 658.90,402.30" fill="none" stroke="rgb(216,64,39)" stroke-width="1.4" stroke-linejoin="round"/><polyline points="1.30,303.30 6.10,295.50 10.90,295.50 15.70,295.50 20.50,295.50 25.30,295.50 30.10,284.90 34.90,284.50 39.70,283.80 44.50,278.35 49.30,271.45 54.10,266.00 58.90,239.60 63.70,226.39 68.50,200.73 73.30,172.50 78.10,153.75 82.90,152.50 87.70,142.75 92.50,133.75 97.30,133.75 102.10,133.75 106.90,133.75 111.70,133.75 116.50,133.75 121.30,133.75 126.10,133.75 130.90,133.75 135.70,133.75 140.50,133.75 145.30,133.75 150.10,133.75 154.90,133.75 159.70,120.99 164.50,110.00 169.30,88.75 174.10,88.55 178.90,88.31 183.70,88.00 188.50,84.80 193.30,80.00 198.10,79.87 202.90,79.72 207.70,79.57 212.50,77.70 217.30,75.00 222.10,71.80 226.90,70.00 231.70,70.00 236.50,70.00 241.30,70.00 246.10,70.00 250.90,70.00 255.70,70.00 260.50,70.00 265.30,70.00 270.10,70.00 274.90,60.36 279.70,50.30 284.50,50.34 289.30,50.38 294.10,50.42 298.90,50.46 303.70,50.50 308.50,50.54 313.30,50.58 318.10,50.62 322.90,50.66 327.70,50.70 332.50,50.74 337.30,50.78 342.10,50.82 346.90,50.86 351.70,50.90 356.50,55.92 361.30,83.10 366.10,98.20 370.90,111.30 375.70,116.00 380.50,142.50 385.30,149.50 390.10,149.50 394.90,149.50 399.70,149.50 404.50,149.50 409.30,149.50 414.10,149.50 418.90,149.50 423.70,149.50 428.50,151.30 433.30,152.50 438.10,162.50 442.90,166.25 447.70,166.25 452.50,170.00 457.30,195.54 462.10,217.50 466.90,224.83 471.70,232.55 476.50,241.25 481.30,250.00 486.10,252.50 490.90,289.50 495.70,291.90 500.50,302.00 505.30,302.00 510.10,302.00 514.90,302.00 519.70,302.00 524.50,302.00 529.30,302.00 534.10,302.00 538.90,302.00 543.70,302.00 548.50,300.50 553.30,294.70 558.10,294.70 562.90,294.70 567.70,294.70 572.50,294.70 577.30,294.70 582.10,294.70 586.90,294.70 591.70,294.70 596.50,263.75 601.30,266.25 606.10,302.50 610.90,303.75 615.70,303.75 620.50,303.75 625.30,303.75 630.10,303.75 634.90,303.75 639.70,303.75 644.50,320.50 649.30,320.50 654.10,320.50 658.90,320.50" fill="none" stroke="rgb(39,64,216)" stroke-width="1.5" stroke-linejoin="round"/></g>
<polyline points="1.30,107.80 6.10,116.60 10.90,113.00 15.70,96.90 20.50,124.70 25.30,114.50 30.10,72.00 34.90,52.50 39.70,54.00 44.50,58.75 49.30,57.00 54.10,60.50 58.90,49.50 63.70,37.00 68.50,40.00 73.30,38.75 78.10,42.50 82.90,35.00 87.70,27.00 92.50,23.00 97.30,21.25 102.10,12.00 106.90,20.50 111.70,35.00 116.50,16.25 121.30,17.00 126.10,44.70 130.90,69.10 135.70,79.40 140.50,44.70 145.30,45.60 150.10,60.70 154.90,50.30 159.70,56.00 164.50,82.20 169.30,71.00 174.10,36.30 178.90,45.60 183.70,38.10 188.50,32.00 193.30,28.75 198.10,25.00 202.90,38.00 207.70,35.80 212.50,68.75 217.30,60.25 222.10,65.90 226.90,69.00 231.70,94.40 236.50,132.50 241.30,173.75 246.10,195.00 250.90,214.00 255.70,239.30 260.50,257.50 265.30,251.25 270.10,251.75 274.90,243.00 279.70,243.25 284.50,240.00 289.30,235.50 294.10,244.50 298.90,266.25 303.70,248.75 308.50,260.00 313.30,280.00 318.10,281.25 322.90,292.50 327.70,292.50 332.50,333.75 337.30,368.75 342.10,374.50 346.90,315.50 351.70,253.00 356.50,208.00 361.30,222.00 366.10,234.80 370.90,209.00 375.70,258.80 380.50,245.60 385.30,240.00 390.10,223.75 394.90,233.00 399.70,213.75 404.50,209.50 409.30,205.00 414.10,214.50 418.90,218.00 423.70,196.25 428.50,182.50 433.30,203.75 438.10,235.00 442.90,231.25 447.70,252.50 452.50,273.75 457.30,243.75 462.10,279.00 466.90,238.75 471.70,305.00 476.50,352.50 481.30,420.00 486.10,367.50 490.90,360.00 495.70,353.75 500.50,375.00 505.30,349.50 510.10,380.00 514.90,400.00 519.70,424.00 524.50,433.70 529.30,450.00 534.10,459.20" fill="none" stroke="#0f0" stroke-width="1.3" stroke-linejoin="round"/>
</g>
<line x1="2" y1="459.5" x2="736" y2="459.5" stroke="#dc5050" stroke-width="0.9"/>
<rect x="485" y="2" width="3" height="465" fill="#8a2be2"/>
<rect x="587" y="248.0" width="29" height="22.4" fill="none" stroke="#ff00ff" stroke-width="2.8"/>
<path d="M668.5 444 L673.2 449.3 L670.8 449.3 L670.8 455 L666.2 455 L666.2 449.3 L663.8 449.3 Z" fill="none" stroke="#5ad85a" stroke-width="0.8"/>
<path d="M1.5 1.5H736.5V467.5H1.5Z" fill="none" stroke="#505050" stroke-width="1"/>
<g class="tx">
<line x1="736.5" y1="6.20" x2="739.5" y2="6.20" stroke="#222" stroke-width="1"/><text x="739.8" y="8.70" font-size="7" textLength="19.3" lengthAdjust="spacingAndGlyphs" fill="#000" stroke="#000" stroke-width="0.08">6881.70</text><line x1="736.5" y1="25.43" x2="739.5" y2="25.43" stroke="#222" stroke-width="1"/><text x="739.8" y="27.93" font-size="7" textLength="19.3" lengthAdjust="spacingAndGlyphs" fill="#000" stroke="#000" stroke-width="0.08">6870.75</text><line x1="736.5" y1="44.66" x2="739.5" y2="44.66" stroke="#222" stroke-width="1"/><text x="739.8" y="47.16" font-size="7" textLength="19.3" lengthAdjust="spacingAndGlyphs" fill="#000" stroke="#000" stroke-width="0.08">6859.80</text><line x1="736.5" y1="63.89" x2="739.5" y2="63.89" stroke="#222" stroke-width="1"/><text x="739.8" y="66.39" font-size="7" textLength="19.3" lengthAdjust="spacingAndGlyphs" fill="#000" stroke="#000" stroke-width="0.08">6848.85</text><line x1="736.5" y1="83.12" x2="739.5" y2="83.12" stroke="#222" stroke-width="1"/><text x="739.8" y="85.62" font-size="7" textLength="19.3" lengthAdjust="spacingAndGlyphs" fill="#000" stroke="#000" stroke-width="0.08">6837.90</text><line x1="736.5" y1="102.35" x2="739.5" y2="102.35" stroke="#222" stroke-width="1"/><text x="739.8" y="104.85" font-size="7" textLength="19.3" lengthAdjust="spacingAndGlyphs" fill="#000" stroke="#000" stroke-width="0.08">6826.95</text><line x1="736.5" y1="121.58" x2="739.5" y2="121.58" stroke="#222" stroke-width="1"/><text x="739.8" y="124.08" font-size="7" textLength="19.3" lengthAdjust="spacingAndGlyphs" fill="#000" stroke="#000" stroke-width="0.08">6816.00</text><line x1="736.5" y1="140.81" x2="739.5" y2="140.81" stroke="#222" stroke-width="1"/><text x="739.8" y="143.31" font-size="7" textLength="19.3" lengthAdjust="spacingAndGlyphs" fill="#000" stroke="#000" stroke-width="0.08">6805.05</text><line x1="736.5" y1="160.04" x2="739.5" y2="160.04" stroke="#222" stroke-width="1"/><text x="739.8" y="162.54" font-size="7" textLength="19.3" lengthAdjust="spacingAndGlyphs" fill="#000" stroke="#000" stroke-width="0.08">6794.10</text><line x1="736.5" y1="179.27" x2="739.5" y2="179.27" stroke="#222" stroke-width="1"/><text x="739.8" y="181.77" font-size="7" textLength="19.3" lengthAdjust="spacingAndGlyphs" fill="#000" stroke="#000" stroke-width="0.08">6783.15</text><line x1="736.5" y1="198.50" x2="739.5" y2="198.50" stroke="#222" stroke-width="1"/><text x="739.8" y="201.00" font-size="7" textLength="19.3" lengthAdjust="spacingAndGlyphs" fill="#000" stroke="#000" stroke-width="0.08">6772.20</text><line x1="736.5" y1="217.73" x2="739.5" y2="217.73" stroke="#222" stroke-width="1"/><text x="739.8" y="220.23" font-size="7" textLength="19.3" lengthAdjust="spacingAndGlyphs" fill="#000" stroke="#000" stroke-width="0.08">6761.25</text><line x1="736.5" y1="236.96" x2="739.5" y2="236.96" stroke="#222" stroke-width="1"/><text x="739.8" y="239.46" font-size="7" textLength="19.3" lengthAdjust="spacingAndGlyphs" fill="#000" stroke="#000" stroke-width="0.08">6750.30</text><line x1="736.5" y1="256.19" x2="739.5" y2="256.19" stroke="#222" stroke-width="1"/><text x="739.8" y="258.69" font-size="7" textLength="19.3" lengthAdjust="spacingAndGlyphs" fill="#000" stroke="#000" stroke-width="0.08">6739.35</text><line x1="736.5" y1="275.42" x2="739.5" y2="275.42" stroke="#222" stroke-width="1"/><text x="739.8" y="277.92" font-size="7" textLength="19.3" lengthAdjust="spacingAndGlyphs" fill="#000" stroke="#000" stroke-width="0.08">6728.40</text><line x1="736.5" y1="294.65" x2="739.5" y2="294.65" stroke="#222" stroke-width="1"/><text x="739.8" y="297.15" font-size="7" textLength="19.3" lengthAdjust="spacingAndGlyphs" fill="#000" stroke="#000" stroke-width="0.08">6717.45</text><line x1="736.5" y1="313.88" x2="739.5" y2="313.88" stroke="#222" stroke-width="1"/><text x="739.8" y="316.38" font-size="7" textLength="19.3" lengthAdjust="spacingAndGlyphs" fill="#000" stroke="#000" stroke-width="0.08">6706.50</text><line x1="736.5" y1="333.11" x2="739.5" y2="333.11" stroke="#222" stroke-width="1"/><text x="739.8" y="335.61" font-size="7" textLength="19.3" lengthAdjust="spacingAndGlyphs" fill="#000" stroke="#000" stroke-width="0.08">6695.55</text><line x1="736.5" y1="352.34" x2="739.5" y2="352.34" stroke="#222" stroke-width="1"/><text x="739.8" y="354.84" font-size="7" textLength="19.3" lengthAdjust="spacingAndGlyphs" fill="#000" stroke="#000" stroke-width="0.08">6684.60</text><line x1="736.5" y1="371.57" x2="739.5" y2="371.57" stroke="#222" stroke-width="1"/><text x="739.8" y="374.07" font-size="7" textLength="19.3" lengthAdjust="spacingAndGlyphs" fill="#000" stroke="#000" stroke-width="0.08">6673.65</text><line x1="736.5" y1="390.80" x2="739.5" y2="390.80" stroke="#222" stroke-width="1"/><text x="739.8" y="393.30" font-size="7" textLength="19.3" lengthAdjust="spacingAndGlyphs" fill="#000" stroke="#000" stroke-width="0.08">6662.70</text><line x1="736.5" y1="410.03" x2="739.5" y2="410.03" stroke="#222" stroke-width="1"/><text x="739.8" y="412.53" font-size="7" textLength="19.3" lengthAdjust="spacingAndGlyphs" fill="#000" stroke="#000" stroke-width="0.08">6651.75</text><line x1="736.5" y1="429.26" x2="739.5" y2="429.26" stroke="#222" stroke-width="1"/><text x="739.8" y="431.76" font-size="7" textLength="19.3" lengthAdjust="spacingAndGlyphs" fill="#000" stroke="#000" stroke-width="0.08">6640.80</text><line x1="736.5" y1="448.49" x2="739.5" y2="448.49" stroke="#222" stroke-width="1"/><text x="739.8" y="450.99" font-size="7" textLength="19.3" lengthAdjust="spacingAndGlyphs" fill="#000" stroke="#000" stroke-width="0.08">6629.85</text>
<rect x="738" y="456" width="23" height="6.6" fill="#cc0000"/>
<text x="739.8" y="461.8" font-size="7" textLength="19.3" lengthAdjust="spacingAndGlyphs" fill="#fff">6623.77</text>
<line x1="1.20" y1="467" x2="1.20" y2="470" stroke="#333" stroke-width="0.8"/><text x="1.70" y="475.5" font-size="7" textLength="31.5" lengthAdjust="spacingAndGlyphs" fill="#000" stroke="#000" stroke-width="0.08">10 Nov 2025</text><line x1="39.60" y1="467" x2="39.60" y2="470" stroke="#333" stroke-width="0.8"/><text x="40.10" y="475.5" font-size="7" textLength="33.3" lengthAdjust="spacingAndGlyphs" fill="#000" stroke="#000" stroke-width="0.08">10 Nov 18:00</text><line x1="78.00" y1="467" x2="78.00" y2="470" stroke="#333" stroke-width="0.8"/><text x="78.50" y="475.5" font-size="7" textLength="33.3" lengthAdjust="spacingAndGlyphs" fill="#000" stroke="#000" stroke-width="0.08">11 Nov 03:00</text><line x1="116.40" y1="467" x2="116.40" y2="470" stroke="#333" stroke-width="0.8"/><text x="116.90" y="475.5" font-size="7" textLength="33.3" lengthAdjust="spacingAndGlyphs" fill="#000" stroke="#000" stroke-width="0.08">11 Nov 11:00</text><line x1="154.80" y1="467" x2="154.80" y2="470" stroke="#333" stroke-width="0.8"/><text x="155.30" y="475.5" font-size="7" textLength="33.3" lengthAdjust="spacingAndGlyphs" fill="#000" stroke="#000" stroke-width="0.08">11 Nov 19:00</text><line x1="193.20" y1="467" x2="193.20" y2="470" stroke="#333" stroke-width="0.8"/><text x="193.70" y="475.5" font-size="7" textLength="33.3" lengthAdjust="spacingAndGlyphs" fill="#000" stroke="#000" stroke-width="0.08">12 Nov 04:00</text><line x1="231.60" y1="467" x2="231.60" y2="470" stroke="#333" stroke-width="0.8"/><text x="232.10" y="475.5" font-size="7" textLength="33.3" lengthAdjust="spacingAndGlyphs" fill="#000" stroke="#000" stroke-width="0.08">12 Nov 12:00</text><line x1="270.00" y1="467" x2="270.00" y2="470" stroke="#333" stroke-width="0.8"/><text x="270.50" y="475.5" font-size="7" textLength="33.3" lengthAdjust="spacingAndGlyphs" fill="#000" stroke="#000" stroke-width="0.08">12 Nov 20:00</text><line x1="308.40" y1="467" x2="308.40" y2="470" stroke="#333" stroke-width="0.8"/><text x="308.90" y="475.5" font-size="7" textLength="33.3" lengthAdjust="spacingAndGlyphs" fill="#000" stroke="#000" stroke-width="0.08">13 Nov 05:00</text><line x1="346.80" y1="467" x2="346.80" y2="470" stroke="#333" stroke-width="0.8"/><text x="347.30" y="475.5" font-size="7" textLength="33.3" lengthAdjust="spacingAndGlyphs" fill="#000" stroke="#000" stroke-width="0.08">13 Nov 13:00</text><line x1="385.20" y1="467" x2="385.20" y2="470" stroke="#333" stroke-width="0.8"/><text x="385.70" y="475.5" font-size="7" textLength="33.3" lengthAdjust="spacingAndGlyphs" fill="#000" stroke="#000" stroke-width="0.08">13 Nov 21:00</text><line x1="423.60" y1="467" x2="423.60" y2="470" stroke="#333" stroke-width="0.8"/><text x="424.10" y="475.5" font-size="7" textLength="33.3" lengthAdjust="spacingAndGlyphs" fill="#000" stroke="#000" stroke-width="0.08">14 Nov 06:00</text><line x1="462.00" y1="467" x2="462.00" y2="470" stroke="#333" stroke-width="0.8"/><text x="462.50" y="475.5" font-size="7" textLength="33.3" lengthAdjust="spacingAndGlyphs" fill="#000" stroke="#000" stroke-width="0.08">14 Nov 14:00</text><line x1="500.40" y1="467" x2="500.40" y2="470" stroke="#333" stroke-width="0.8"/><text x="500.90" y="475.5" font-size="7" textLength="33.3" lengthAdjust="spacingAndGlyphs" fill="#000" stroke="#000" stroke-width="0.08">14 Nov 22:00</text><line x1="538.80" y1="467" x2="538.80" y2="470" stroke="#333" stroke-width="0.8"/><text x="539.30" y="475.5" font-size="7" textLength="33.3" lengthAdjust="spacingAndGlyphs" fill="#000" stroke="#000" stroke-width="0.08">17 Nov 07:00</text><line x1="577.20" y1="467" x2="577.20" y2="470" stroke="#333" stroke-width="0.8"/><text x="577.70" y="475.5" font-size="7" textLength="33.3" lengthAdjust="spacingAndGlyphs" fill="#000" stroke="#000" stroke-width="0.08">17 Nov 15:00</text><line x1="615.60" y1="467" x2="615.60" y2="470" stroke="#333" stroke-width="0.8"/><text x="616.10" y="475.5" font-size="7" textLength="33.3" lengthAdjust="spacingAndGlyphs" fill="#000" stroke="#000" stroke-width="0.08">17 Nov 23:00</text><line x1="654.00" y1="467" x2="654.00" y2="470" stroke="#333" stroke-width="0.8"/><text x="654.50" y="475.5" font-size="7" textLength="33.3" lengthAdjust="spacingAndGlyphs" fill="#000" stroke="#000" stroke-width="0.08">18 Nov 08:00</text>
<rect x="462.5" y="470" width="46.5" height="6.8" fill="#8a2be2"/>
<text x="463.5" y="475.5" font-size="7" textLength="44.5" lengthAdjust="spacingAndGlyphs" fill="#fff">2025.11.14 19:00</text>
</g>
</svg></body></html>
